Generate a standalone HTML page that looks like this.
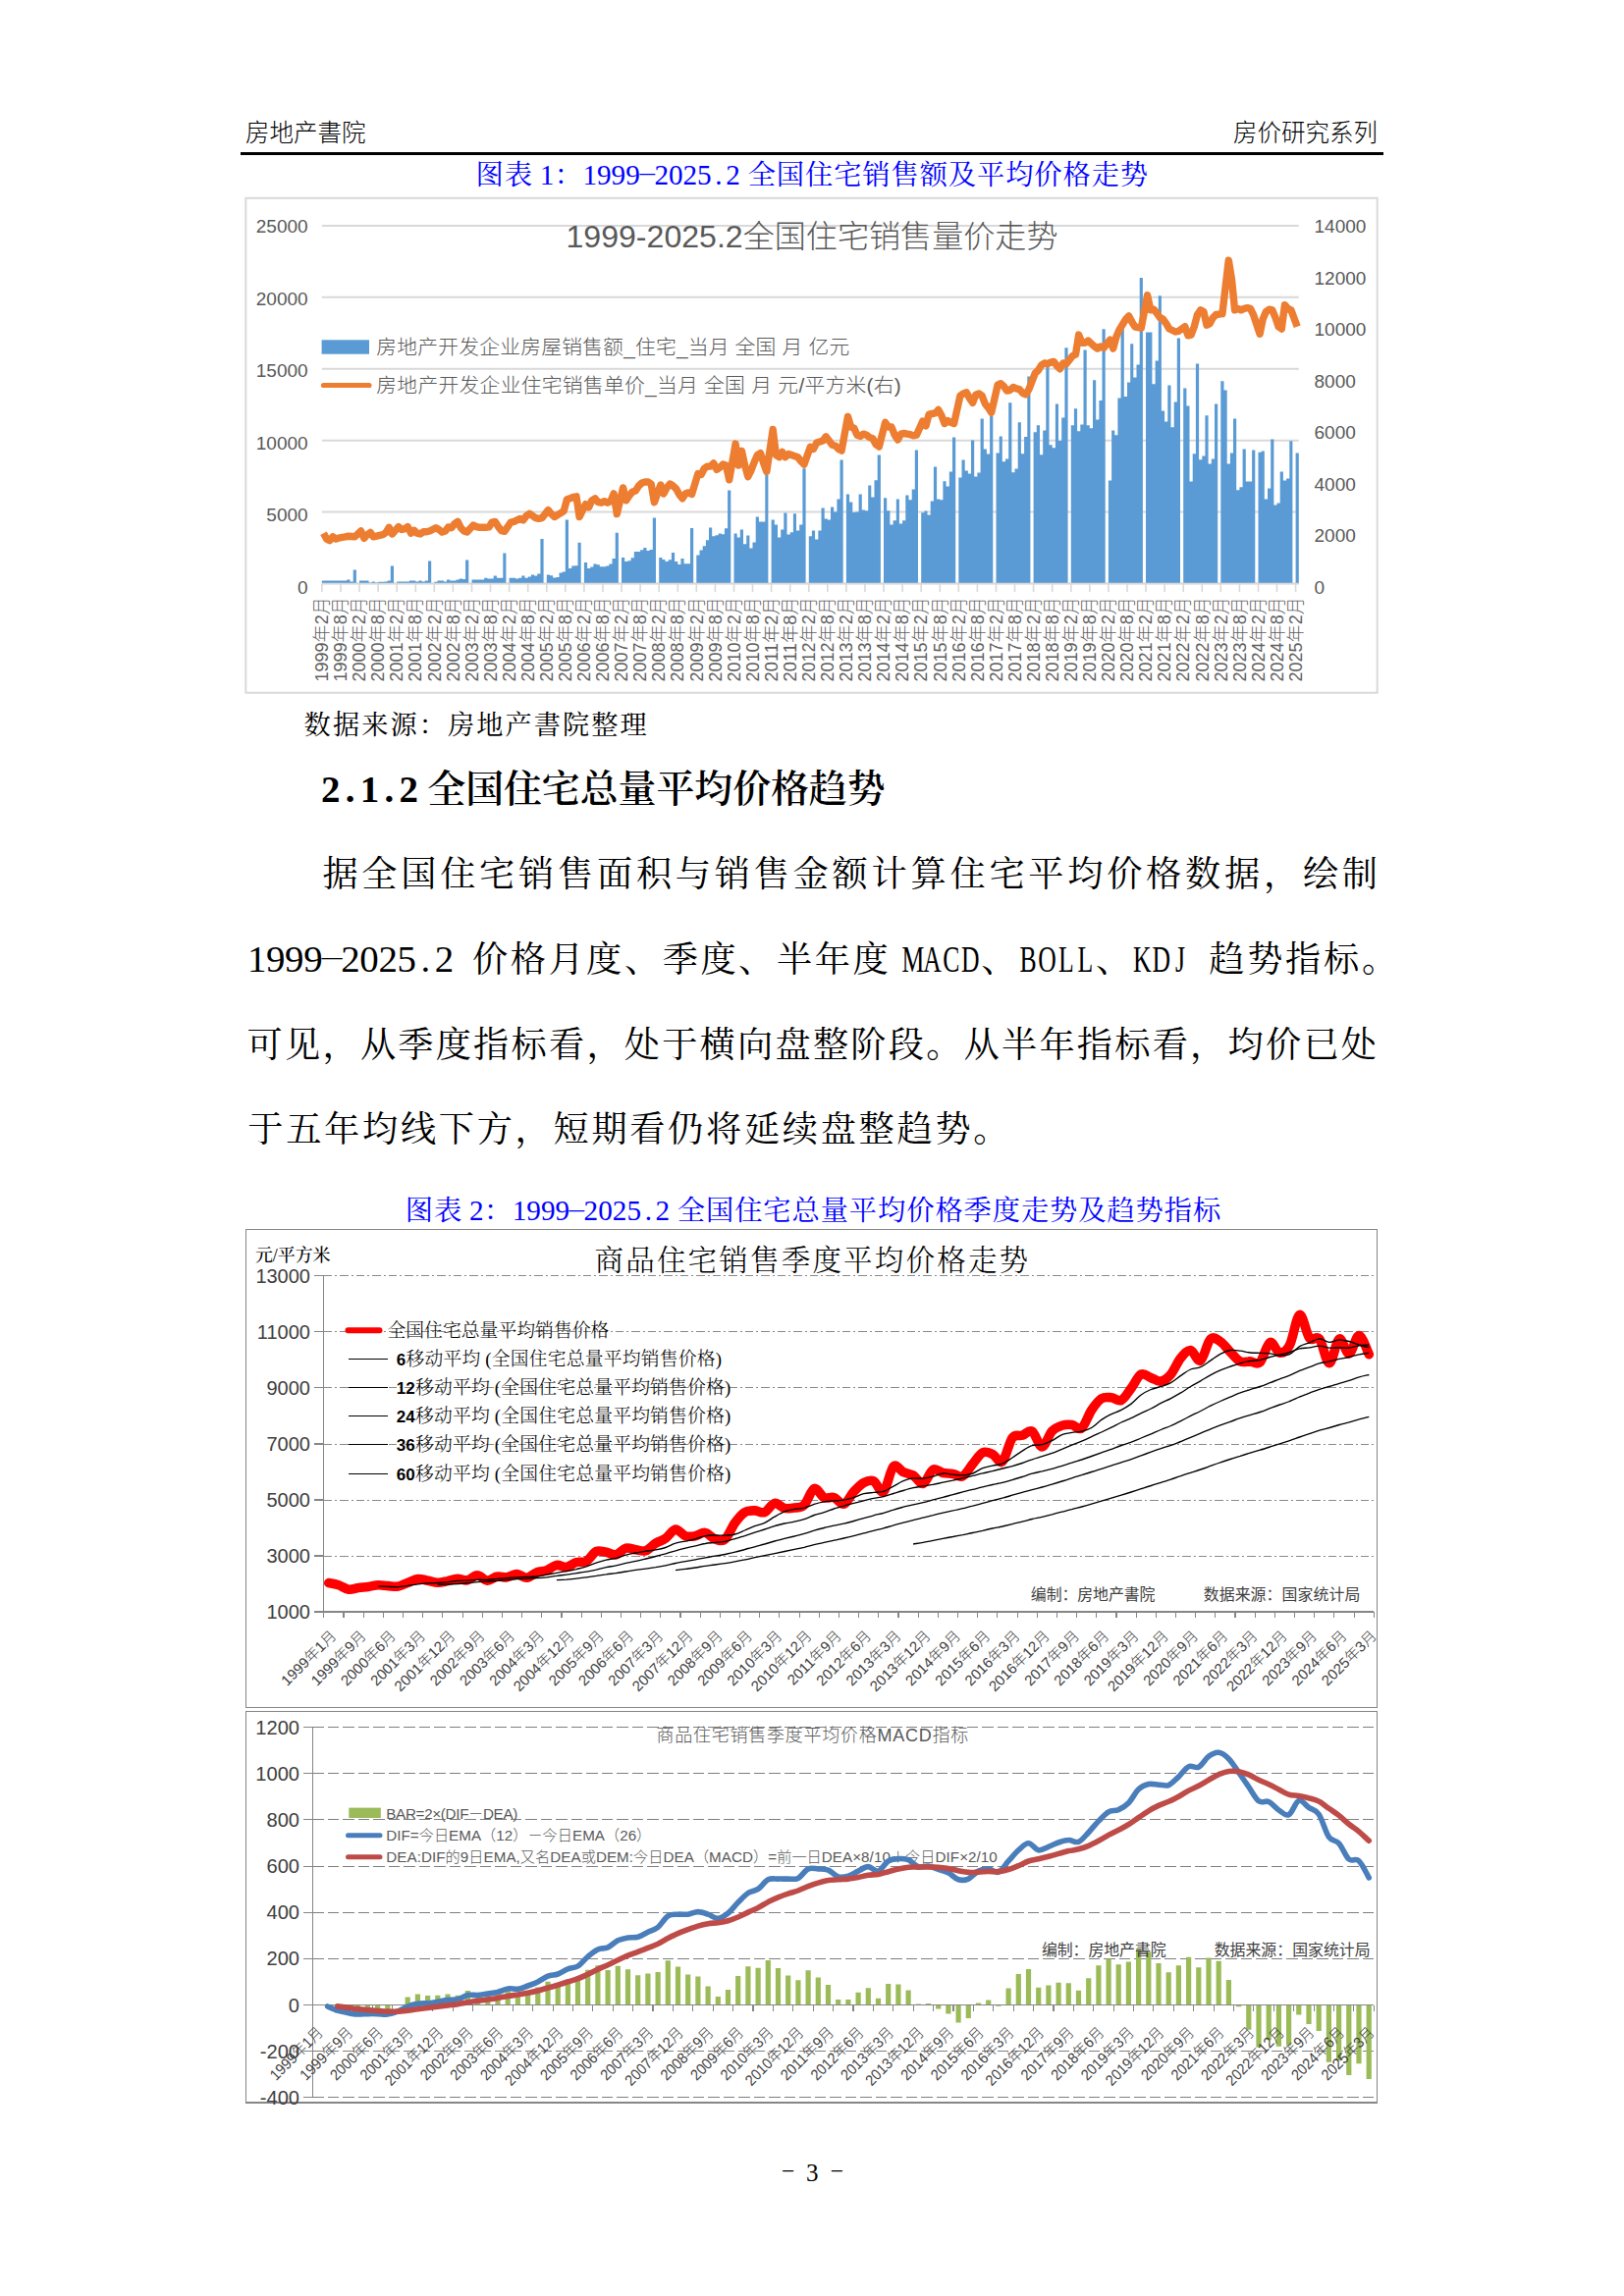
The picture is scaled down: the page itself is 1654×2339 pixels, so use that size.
<!DOCTYPE html>
<html lang="zh-CN">
<head>
<meta charset="utf-8">
<title>房价研究系列 - 房地产書院</title>
<style>
html,body{margin:0;padding:0;background:#fff;}
body{width:1654px;height:2339px;position:relative;overflow:hidden;color:#000;
  font-family:"Liberation Serif","Noto Serif CJK SC",serif;}
.page{position:absolute;left:0;top:0;width:1654px;height:2339px;background:#fff;}
.hdr{position:absolute;top:121px;font-family:"Liberation Sans","Noto Sans CJK SC",sans-serif;
  font-size:24.5px;line-height:30px;white-space:nowrap;color:#000;font-weight:300;}
.hdr.l{left:250px;}
.hdr.r{right:251px;}
.rule{position:absolute;left:245px;top:155px;width:1164px;height:3px;background:#000;}
header,main,section,figure,figcaption,footer{display:block;margin:0;padding:0;}
svg{position:absolute;left:0;top:0;overflow:visible;}
svg text{white-space:pre;}
.song{font-family:"Liberation Serif","Noto Serif CJK SC",serif;}
.hei{font-family:"Liberation Sans","Noto Sans CJK SC",sans-serif;}
.kai{font-family:"Liberation Serif","Noto Serif CJK SC",serif;}
</style>
</head>
<body>
<div class="page">
<header>
<div class="hdr l">房地产書院</div>
<div class="hdr r">房价研究系列</div>
<div class="rule"></div>
</header>
<main>

<figure id="fig1">
<figcaption>
<svg id="cap1" width="1654" height="2339" viewBox="0 0 1654 2339">
<text class="song" x="498.6 527.8" y="187.5" font-size="28.3" fill="#0000ff" text-anchor="middle" font-weight="400">图表</text>
<text class="song" x="557" y="187.5" font-size="29.2" fill="#0000ff" text-anchor="middle" font-weight="400">1</text>
<text class="song" x="578.9" y="187.5" font-size="28.3" fill="#0000ff" text-anchor="middle" font-weight="400">：</text>
<text class="song" x="600.7 615.3 629.9 644.5" y="187.5" font-size="29.2" fill="#0000ff" text-anchor="middle" font-weight="400">1999</text>
<text class="song" transform="translate(659.1,181.1) scale(2.1,0.5)" font-size="29.2" fill="#0000ff" text-anchor="middle">-</text>
<text class="song" x="673.7 688.2 702.8 717.4 732 746.6" y="187.5" font-size="29.2" fill="#0000ff" text-anchor="middle" font-weight="400">2025.2</text>
<text class="song" x="775.8 804.9 834.1 863.3 892.4 921.6 950.8 979.9 1009.1 1038.3 1067.5 1096.6 1125.8 1155" y="187.5" font-size="28.3" fill="#0000ff" text-anchor="middle" font-weight="400">全国住宅销售额及平均价格走势</text>
</svg></figcaption>
<svg id="chart1" width="1654" height="2339" viewBox="0 0 1654 2339">
<rect x="250.3" y="201.8" width="1152.4" height="503.9" fill="#fff" stroke="#d9d9d9" stroke-width="2"/>
<line x1="327.9" x2="1322.8" y1="594.5" y2="594.5" stroke="#d9d9d9" stroke-width="2"/>
<text class="hei" x="313.6" y="604.5" font-size="19" fill="#595959" text-anchor="end">0</text>
<line x1="327.9" x2="1322.8" y1="521.6" y2="521.6" stroke="#d9d9d9" stroke-width="2"/>
<text class="hei" x="313.6" y="531.1" font-size="19" fill="#595959" text-anchor="end">5000</text>
<line x1="327.9" x2="1322.8" y1="448.7" y2="448.7" stroke="#d9d9d9" stroke-width="2"/>
<text class="hei" x="313.6" y="457.6" font-size="19" fill="#595959" text-anchor="end">10000</text>
<line x1="327.9" x2="1322.8" y1="375.7" y2="375.7" stroke="#d9d9d9" stroke-width="2"/>
<text class="hei" x="313.6" y="384.2" font-size="19" fill="#595959" text-anchor="end">15000</text>
<line x1="327.9" x2="1322.8" y1="302.8" y2="302.8" stroke="#d9d9d9" stroke-width="2"/>
<text class="hei" x="313.6" y="310.7" font-size="19" fill="#595959" text-anchor="end">20000</text>
<line x1="327.9" x2="1322.8" y1="229.9" y2="229.9" stroke="#d9d9d9" stroke-width="2"/>
<text class="hei" x="313.6" y="237.3" font-size="19" fill="#595959" text-anchor="end">25000</text>
<text class="hei" x="1338.5" y="604.5" font-size="19" fill="#595959">0</text>
<text class="hei" x="1338.5" y="552" font-size="19" fill="#595959">2000</text>
<text class="hei" x="1338.5" y="499.6" font-size="19" fill="#595959">4000</text>
<text class="hei" x="1338.5" y="447.1" font-size="19" fill="#595959">6000</text>
<text class="hei" x="1338.5" y="394.7" font-size="19" fill="#595959">8000</text>
<text class="hei" x="1338.5" y="342.2" font-size="19" fill="#595959">10000</text>
<text class="hei" x="1338.5" y="289.8" font-size="19" fill="#595959">12000</text>
<text class="hei" x="1338.5" y="237.3" font-size="19" fill="#595959">14000</text>
<text class="hei" x="827" y="252" font-size="31.5" fill="#595959" text-anchor="middle" font-weight="300" textLength="501" lengthAdjust="spacingAndGlyphs">1999-2025.2全国住宅销售量价走势</text>
<rect x="327.6" y="346.3" width="48.4" height="14.4" fill="#5b9bd5"/>
<text class="hei" x="383.3" y="361" font-size="20.8" fill="#595959" font-weight="300" textLength="482" lengthAdjust="spacing">房地产开发企业房屋销售额_住宅_当月 全国 月 亿元</text>
<line x1="329.5" x2="376" y1="392.5" y2="392.5" stroke="#ed7d31" stroke-width="5.2" stroke-linecap="round"/>
<text class="hei" x="383.3" y="399.6" font-size="20.8" fill="#595959" font-weight="300" textLength="534.5" lengthAdjust="spacing">房地产开发企业住宅销售单价_当月 全国 月 元/平方米(右)</text>
<path d="M327.9,594.5V591.6H331.1V591.6H334.3V591.6H337.4V591.6H340.6V591.6H343.8V591.6H347V591.6H350.2V591.6H353.3V590.5H356.5V592.4H359.7V580.5H362.9V594.5ZM366,594.5V591.5H369.2V591.5H372.4V591.5H375.6V593.5H378.8V592.6H381.9V593.5H385.1V592.7H388.3V592.7H391.5V592.4H394.7V591.5H397.8V576.5H401V594.5ZM404.2,594.5V592.6H407.4V592.6H410.5V592.6H413.7V592.6H416.9V591.5H420.1V591.5H423.3V592.4H426.4V591.5H429.6V592.6H432.8V591.5H436V571.5H439.2V594.5ZM442.3,594.5V592.7H445.5V591.6H448.7V591.6H451.9V592.6H455V590.5H458.2V591.5H461.4V591.5H464.6V590.5H467.8V589.6H470.9V590.1H474.1V570.5H477.3V594.5ZM480.5,594.5V590.6H483.7V590.6H486.8V590.6H490V590.6H493.2V588.7H496.4V589.4H499.5V589.4H502.7V586.6H505.9V588.7H509.1V588.7H512.3V563.5H515.4V594.5ZM518.6,594.5V588.7H521.8V588.7H525V589.6H528.2V588.7H531.3V586.6H534.5V588.7H537.7V587.5H540.9V585.6H544V586.6H547.2V584.6H550.4V549.1H553.6V594.5ZM556.8,594.5V585.5H559.9V586.3H563.1V588.5H566.3V588H569.5V583.6H572.7V582.5H575.8V529.6H579V579H582.2V576.6H585.4V576.3H588.5V552.8H591.7V594.5ZM594.9,594.5V573.1H598.1V579H601.3V577.5H604.4V574.5H607.6V575.3H610.8V577.3H614V577.3H617.2V576.6H620.3V574.5H623.5V569H626.7V542.7H629.9V594.5ZM633,594.5V568.1H636.2V572H639.4V571.3H642.6V568.3H645.8V562H648.9V562H652.1V560.3H655.3V558H658.5V561H661.7V560H664.8V527.6H668V594.5ZM671.2,594.5V568.1H674.4V570H677.5V572H680.7V570.3H683.9V563H687.1V572H690.3V575H693.4V569H696.6V574.3H699.8V574.3H703V538.1H706.2V594.5ZM709.3,594.5V565.4H712.5V560.5H715.7V556.3H718.9V550.3H722V537.4H725.2V546.3H728.4V545.3H731.6V543.5H734.8V544.2H737.9V538.3H741.1V499.4H744.3V594.5ZM747.5,594.5V543.4H750.7V547.4H753.8V539.5H757V554.2H760.2V545.5H763.4V558.4H766.5V552.4H769.7V526.4H772.9V531.5H776.1V531.5H779.3V483.5H782.4V594.5ZM785.6,594.5V529.4H788.8V534.6H792V547.4H795.2V539.5H798.3V522.5H801.5V544.4H804.7V542.3H807.9V523.3H811V540.6H814.2V534.6H817.4V477.2H820.6V594.5ZM823.8,594.5V546.3H826.9V540.6H830.1V549.5H833.3V540.6H836.5V517.5H839.7V528.5H842.8V529.4H846V516.5H849.2V521.4H852.4V508.4H855.5V468.4H858.7V594.5ZM861.9,594.5V503.5H865.1V511.5H868.3V522H871.4V521.5H874.6V503.5H877.8V519.5H881V520.3H884.2V494.4H887.3V506.4H890.5V489.3H893.7V463.5H896.9V594.5ZM900,594.5V507.3H903.2V520.3H906.4V534.4H909.6V530.3H912.8V508.5H915.9V533.6H919.1V530.3H922.3V504.4H925.5V509.3H928.7V498.5H931.8V458.5H935V594.5ZM938.2,594.5V522.3H941.4V520.6H944.5V524.4H947.7V510.5H950.9V475.6H954.1V508.5H957.3V509.3H960.4V490.3H963.6V495.6H966.8V480.5H970V445.6H973.2V594.5ZM976.3,594.5V486.5H979.5V468.5H982.7V479.5H985.9V482.4H989V448.5H992.2V485.4H995.4V481.5H998.6V426.5H1001.8V457.4H1004.9V462.4H1008.1V423.9H1011.3V594.5ZM1014.5,594.5V461.4H1017.7V444.4H1020.8V470.3H1024V467.4H1027.2V410.3H1030.4V481.3H1033.5V477.4H1036.7V430.3H1039.9V462.2H1043.1V445.1H1046.3V383.5H1049.4V594.5ZM1052.6,594.5V440.2H1055.8V433.3H1059V463.2H1062.2V438.5H1065.3V373.6H1068.5V453.3H1071.7V456.3H1074.9V411.4H1078V449.1H1081.2V425.4H1084.4V354.3H1087.6V594.5ZM1090.8,594.5V433.3H1093.9V416.2H1097.1V439.2H1100.3V432.5H1103.5V356.5H1106.7V433.3H1109.8V436.2H1113V387.3H1116.2V427.4H1119.4V408.1H1122.5V335.3H1125.7V594.5ZM1128.9,594.5V489.5H1132.1V438.5H1135.3V443.2H1138.4V405.4H1141.6V334.3H1144.8V403.9H1148V389.4H1151.2V350.3H1154.3V384.4H1157.5V371.6H1160.7V283.1H1163.9V594.5ZM1167,594.5V338.4H1170.2V338.4H1173.4V391.3H1176.6V367.4H1179.8V301.3H1182.9V418.5H1186.1V429.4H1189.3V392.4H1192.5V435.2H1195.7V409.6H1198.8V344.5H1202V594.5ZM1205.2,594.5V395.4H1208.4V413.4H1211.5V490.5H1214.7V462.2H1217.9V370.4H1221.1V468.3H1224.3V464.5H1227.4V423.3H1230.6V472.6H1233.8V467.6H1237V411.4H1240.2V594.5ZM1243.3,594.5V388.3H1246.5V397.4H1249.7V472.6H1252.9V461.5H1256V426.4H1259.2V499.3H1262.4V496.3H1265.6V457.4H1268.8V490.5H1271.9V490.5H1275.1V458.4H1278.3V594.5ZM1281.5,594.5V460.7H1284.7V459.5H1287.8V508.5H1291V497.6H1294.2V447.4H1297.4V514.6H1300.5V512.6H1303.7V480.5H1306.9V489.4H1310.1V487.4H1313.3V449.3H1316.4V594.5ZM1319.6,594.5V461.5H1322.8V594.5Z" fill="#5b9bd5"/>
<line x1="327.9" x2="1322.8" y1="594.5" y2="594.5" stroke="#d9d9d9" stroke-width="1.6"/>
<path d="M327.9,594.5v8.5M347,594.5v8.5M366,594.5v8.5M385.1,594.5v8.5M404.2,594.5v8.5M423.3,594.5v8.5M442.3,594.5v8.5M461.4,594.5v8.5M480.5,594.5v8.5M499.5,594.5v8.5M518.6,594.5v8.5M537.7,594.5v8.5M556.8,594.5v8.5M575.8,594.5v8.5M594.9,594.5v8.5M614,594.5v8.5M633,594.5v8.5M652.1,594.5v8.5M671.2,594.5v8.5M690.3,594.5v8.5M709.3,594.5v8.5M728.4,594.5v8.5M747.5,594.5v8.5M766.5,594.5v8.5M785.6,594.5v8.5M804.7,594.5v8.5M823.8,594.5v8.5M842.8,594.5v8.5M861.9,594.5v8.5M881,594.5v8.5M900,594.5v8.5M919.1,594.5v8.5M938.2,594.5v8.5M957.3,594.5v8.5M976.3,594.5v8.5M995.4,594.5v8.5M1014.5,594.5v8.5M1033.5,594.5v8.5M1052.6,594.5v8.5M1071.7,594.5v8.5M1090.8,594.5v8.5M1109.8,594.5v8.5M1128.9,594.5v8.5M1148,594.5v8.5M1167,594.5v8.5M1186.1,594.5v8.5M1205.2,594.5v8.5M1224.3,594.5v8.5M1243.3,594.5v8.5M1262.4,594.5v8.5M1281.5,594.5v8.5M1300.5,594.5v8.5M1319.6,594.5v8.5" stroke="#d9d9d9" stroke-width="1.6" fill="none"/>
<polyline points="329.5,543.2 332.7,549.1 335.8,550.6 339,546.9 342.2,549.1 345.4,548 348.6,547.3 351.7,546.9 354.9,546.2 358.1,546.5 361.3,546.9 367.6,541 370.8,548.4 374,544.7 377.2,542.5 380.3,546.9 383.5,546.2 386.7,545.4 389.9,544.7 393.1,542.5 396.2,537.3 399.4,544 405.8,536.6 409,539.5 412.1,538.8 415.3,536.6 418.5,543.2 421.7,540.3 424.8,543.2 428,544 431.2,541.7 434.4,541.7 437.6,541 443.9,537.7 447.1,539.5 450.3,542.1 453.5,541 456.6,536.9 459.8,537.7 463,533.6 466.2,531.4 469.3,537.7 472.5,541 475.7,542.1 482.1,535.1 485.2,536.6 488.4,537.3 491.6,537.3 494.8,537.3 498,536.9 501.1,532.1 504.3,531.4 507.5,536.6 510.7,540.6 513.8,541.3 520.2,532.1 523.4,531.4 526.6,529.9 529.7,528.4 532.9,529.9 536.1,525.5 539.3,523.2 542.5,525.5 545.6,527.7 548.8,528.4 552,527.7 558.3,519.6 561.5,523.6 564.7,526.5 567.9,524.5 571.1,522.6 574.2,520.6 577.4,508.8 580.6,507.8 583.8,506.3 587,505.8 590.1,526.5 596.5,513.7 599.7,516.7 602.8,509.8 606,507.8 609.2,511.7 612.4,512.2 615.6,510.7 618.7,512.2 621.9,510.7 625.1,502.9 628.3,523.6 634.6,496.9 637.8,509.8 641,504.8 644.2,500.9 647.3,499.9 650.5,495 653.7,492 656.9,491 660.1,491 663.2,493 666.4,511.7 672.8,494 676,502.9 679.1,496.9 682.3,493 685.5,495 688.7,497.9 691.8,503.8 695,507.8 698.2,502.9 701.4,501.9 704.6,503.4 710.9,482.5 714.1,483.5 717.3,477.3 720.5,475.1 723.6,475.1 726.8,472 730,478.3 733.2,476.2 736.3,473.1 739.5,474.1 742.7,488.8 749.1,452.1 752.2,474.1 755.4,459.4 758.6,474.1 761.8,485.6 765,479.3 768.1,471 771.3,463.6 774.5,461.6 777.7,472 780.8,480.4 787.2,437.5 790.4,463.6 793.6,465.7 796.7,460.5 799.9,465.7 803.1,462.6 806.3,463.6 809.5,464.7 812.6,465.7 815.8,469.9 819,473.1 825.3,455.2 828.5,457.4 831.7,451.1 834.9,450 838.1,449 841.2,444.8 844.4,449 847.6,453.2 850.8,454.2 854,457.4 857.1,459.1 863.5,424.4 866.7,435 869.9,436.2 873,443.2 876.2,444.4 879.4,442.1 882.6,443.2 885.7,445.6 888.9,446.8 892.1,452.7 895.3,455 901.6,430.3 904.8,435 908,435 911.2,443.2 914.4,448 917.5,442.1 920.7,441.5 923.9,442.1 927.1,442.7 930.2,443.8 933.4,443.2 939.8,429.1 943,433.8 946.1,422.1 949.3,421.5 952.5,420.9 955.7,417.4 958.9,423.3 962,431.5 965.2,428.6 968.4,430.3 971.6,431.5 977.9,403.3 981.1,400.9 984.3,399.8 987.5,405.6 990.6,410.3 993.8,402.1 997,400.9 1000.2,403.3 1003.4,411.5 1006.5,415.3 1009.7,420.3 1016.1,392.1 1019.2,390.7 1022.4,393.6 1025.6,398.1 1028.8,397.3 1032,394.4 1035.1,395.8 1038.3,396.6 1041.5,400.3 1044.7,401.8 1047.9,396.6 1054.2,380.3 1057.4,377.3 1060.6,372.1 1063.7,369.9 1066.9,370.7 1070.1,369.2 1073.3,368.4 1076.5,372.9 1079.6,375.8 1082.8,369.9 1086,370.7 1092.4,362.5 1095.5,361.1 1098.7,341.1 1101.9,349.2 1105.1,349.2 1108.2,347 1111.4,349.9 1114.6,352.9 1117.8,355.1 1121,352.9 1124.1,354.4 1130.5,346.2 1133.7,355.1 1136.9,343.3 1140,335.9 1143.2,330.7 1146.4,325.5 1149.6,321.8 1152.7,327.7 1155.9,332.9 1159.1,333.7 1162.3,334.1 1168.6,300.7 1171.8,315.8 1175,315.2 1178.2,319 1181.4,323.6 1184.5,325.1 1187.7,329.6 1190.9,335 1194.1,336.5 1197.2,338 1200.4,337.3 1206.8,332.7 1210,341.8 1213.1,341.1 1216.3,332.7 1219.5,320.5 1222.7,315.9 1225.9,317.5 1229,331.2 1232.2,329.6 1235.4,323.6 1238.6,320.5 1244.9,319.7 1248.1,292.4 1251.3,265.1 1254.5,284.6 1257.6,315.9 1260.8,314.4 1264,315.9 1267.2,314.4 1270.4,313.7 1273.5,314.4 1276.7,321 1283.1,340.3 1286.2,325.1 1289.4,317.5 1292.6,315.2 1295.8,315.9 1299,323.6 1302.1,332.7 1305.3,335 1308.5,310.6 1311.7,314.4 1314.9,315.9 1321.2,332.7" fill="none" stroke="#ed7d31" stroke-width="7.4" stroke-linejoin="round" stroke-linecap="butt"/>
<text class="hei" transform="translate(334.1,608.3) rotate(-90)" font-size="18.6" fill="#5e5e5e" text-anchor="end" font-weight="300" textLength="86.2" lengthAdjust="spacingAndGlyphs">1999年2月</text>
<text class="hei" transform="translate(353.2,608.3) rotate(-90)" font-size="18.6" fill="#5e5e5e" text-anchor="end" font-weight="300" textLength="86.2" lengthAdjust="spacingAndGlyphs">1999年8月</text>
<text class="hei" transform="translate(372.2,608.3) rotate(-90)" font-size="18.6" fill="#5e5e5e" text-anchor="end" font-weight="300" textLength="86.2" lengthAdjust="spacingAndGlyphs">2000年2月</text>
<text class="hei" transform="translate(391.3,608.3) rotate(-90)" font-size="18.6" fill="#5e5e5e" text-anchor="end" font-weight="300" textLength="86.2" lengthAdjust="spacingAndGlyphs">2000年8月</text>
<text class="hei" transform="translate(410.4,608.3) rotate(-90)" font-size="18.6" fill="#5e5e5e" text-anchor="end" font-weight="300" textLength="86.2" lengthAdjust="spacingAndGlyphs">2001年2月</text>
<text class="hei" transform="translate(429.4,608.3) rotate(-90)" font-size="18.6" fill="#5e5e5e" text-anchor="end" font-weight="300" textLength="86.2" lengthAdjust="spacingAndGlyphs">2001年8月</text>
<text class="hei" transform="translate(448.5,608.3) rotate(-90)" font-size="18.6" fill="#5e5e5e" text-anchor="end" font-weight="300" textLength="86.2" lengthAdjust="spacingAndGlyphs">2002年2月</text>
<text class="hei" transform="translate(467.6,608.3) rotate(-90)" font-size="18.6" fill="#5e5e5e" text-anchor="end" font-weight="300" textLength="86.2" lengthAdjust="spacingAndGlyphs">2002年8月</text>
<text class="hei" transform="translate(486.7,608.3) rotate(-90)" font-size="18.6" fill="#5e5e5e" text-anchor="end" font-weight="300" textLength="86.2" lengthAdjust="spacingAndGlyphs">2003年2月</text>
<text class="hei" transform="translate(505.7,608.3) rotate(-90)" font-size="18.6" fill="#5e5e5e" text-anchor="end" font-weight="300" textLength="86.2" lengthAdjust="spacingAndGlyphs">2003年8月</text>
<text class="hei" transform="translate(524.8,608.3) rotate(-90)" font-size="18.6" fill="#5e5e5e" text-anchor="end" font-weight="300" textLength="86.2" lengthAdjust="spacingAndGlyphs">2004年2月</text>
<text class="hei" transform="translate(543.9,608.3) rotate(-90)" font-size="18.6" fill="#5e5e5e" text-anchor="end" font-weight="300" textLength="86.2" lengthAdjust="spacingAndGlyphs">2004年8月</text>
<text class="hei" transform="translate(562.9,608.3) rotate(-90)" font-size="18.6" fill="#5e5e5e" text-anchor="end" font-weight="300" textLength="86.2" lengthAdjust="spacingAndGlyphs">2005年2月</text>
<text class="hei" transform="translate(582,608.3) rotate(-90)" font-size="18.6" fill="#5e5e5e" text-anchor="end" font-weight="300" textLength="86.2" lengthAdjust="spacingAndGlyphs">2005年8月</text>
<text class="hei" transform="translate(601.1,608.3) rotate(-90)" font-size="18.6" fill="#5e5e5e" text-anchor="end" font-weight="300" textLength="86.2" lengthAdjust="spacingAndGlyphs">2006年2月</text>
<text class="hei" transform="translate(620.2,608.3) rotate(-90)" font-size="18.6" fill="#5e5e5e" text-anchor="end" font-weight="300" textLength="86.2" lengthAdjust="spacingAndGlyphs">2006年8月</text>
<text class="hei" transform="translate(639.2,608.3) rotate(-90)" font-size="18.6" fill="#5e5e5e" text-anchor="end" font-weight="300" textLength="86.2" lengthAdjust="spacingAndGlyphs">2007年2月</text>
<text class="hei" transform="translate(658.3,608.3) rotate(-90)" font-size="18.6" fill="#5e5e5e" text-anchor="end" font-weight="300" textLength="86.2" lengthAdjust="spacingAndGlyphs">2007年8月</text>
<text class="hei" transform="translate(677.4,608.3) rotate(-90)" font-size="18.6" fill="#5e5e5e" text-anchor="end" font-weight="300" textLength="86.2" lengthAdjust="spacingAndGlyphs">2008年2月</text>
<text class="hei" transform="translate(696.4,608.3) rotate(-90)" font-size="18.6" fill="#5e5e5e" text-anchor="end" font-weight="300" textLength="86.2" lengthAdjust="spacingAndGlyphs">2008年8月</text>
<text class="hei" transform="translate(715.5,608.3) rotate(-90)" font-size="18.6" fill="#5e5e5e" text-anchor="end" font-weight="300" textLength="86.2" lengthAdjust="spacingAndGlyphs">2009年2月</text>
<text class="hei" transform="translate(734.6,608.3) rotate(-90)" font-size="18.6" fill="#5e5e5e" text-anchor="end" font-weight="300" textLength="86.2" lengthAdjust="spacingAndGlyphs">2009年8月</text>
<text class="hei" transform="translate(753.7,608.3) rotate(-90)" font-size="18.6" fill="#5e5e5e" text-anchor="end" font-weight="300" textLength="86.2" lengthAdjust="spacingAndGlyphs">2010年2月</text>
<text class="hei" transform="translate(772.7,608.3) rotate(-90)" font-size="18.6" fill="#5e5e5e" text-anchor="end" font-weight="300" textLength="86.2" lengthAdjust="spacingAndGlyphs">2010年8月</text>
<text class="hei" transform="translate(791.8,608.3) rotate(-90)" font-size="18.6" fill="#5e5e5e" text-anchor="end" font-weight="300" textLength="86.2" lengthAdjust="spacingAndGlyphs">2011年2月</text>
<text class="hei" transform="translate(810.9,608.3) rotate(-90)" font-size="18.6" fill="#5e5e5e" text-anchor="end" font-weight="300" textLength="86.2" lengthAdjust="spacingAndGlyphs">2011年8月</text>
<text class="hei" transform="translate(829.9,608.3) rotate(-90)" font-size="18.6" fill="#5e5e5e" text-anchor="end" font-weight="300" textLength="86.2" lengthAdjust="spacingAndGlyphs">2012年2月</text>
<text class="hei" transform="translate(849,608.3) rotate(-90)" font-size="18.6" fill="#5e5e5e" text-anchor="end" font-weight="300" textLength="86.2" lengthAdjust="spacingAndGlyphs">2012年8月</text>
<text class="hei" transform="translate(868.1,608.3) rotate(-90)" font-size="18.6" fill="#5e5e5e" text-anchor="end" font-weight="300" textLength="86.2" lengthAdjust="spacingAndGlyphs">2013年2月</text>
<text class="hei" transform="translate(887.2,608.3) rotate(-90)" font-size="18.6" fill="#5e5e5e" text-anchor="end" font-weight="300" textLength="86.2" lengthAdjust="spacingAndGlyphs">2013年8月</text>
<text class="hei" transform="translate(906.2,608.3) rotate(-90)" font-size="18.6" fill="#5e5e5e" text-anchor="end" font-weight="300" textLength="86.2" lengthAdjust="spacingAndGlyphs">2014年2月</text>
<text class="hei" transform="translate(925.3,608.3) rotate(-90)" font-size="18.6" fill="#5e5e5e" text-anchor="end" font-weight="300" textLength="86.2" lengthAdjust="spacingAndGlyphs">2014年8月</text>
<text class="hei" transform="translate(944.4,608.3) rotate(-90)" font-size="18.6" fill="#5e5e5e" text-anchor="end" font-weight="300" textLength="86.2" lengthAdjust="spacingAndGlyphs">2015年2月</text>
<text class="hei" transform="translate(963.5,608.3) rotate(-90)" font-size="18.6" fill="#5e5e5e" text-anchor="end" font-weight="300" textLength="86.2" lengthAdjust="spacingAndGlyphs">2015年8月</text>
<text class="hei" transform="translate(982.5,608.3) rotate(-90)" font-size="18.6" fill="#5e5e5e" text-anchor="end" font-weight="300" textLength="86.2" lengthAdjust="spacingAndGlyphs">2016年2月</text>
<text class="hei" transform="translate(1001.6,608.3) rotate(-90)" font-size="18.6" fill="#5e5e5e" text-anchor="end" font-weight="300" textLength="86.2" lengthAdjust="spacingAndGlyphs">2016年8月</text>
<text class="hei" transform="translate(1020.7,608.3) rotate(-90)" font-size="18.6" fill="#5e5e5e" text-anchor="end" font-weight="300" textLength="86.2" lengthAdjust="spacingAndGlyphs">2017年2月</text>
<text class="hei" transform="translate(1039.7,608.3) rotate(-90)" font-size="18.6" fill="#5e5e5e" text-anchor="end" font-weight="300" textLength="86.2" lengthAdjust="spacingAndGlyphs">2017年8月</text>
<text class="hei" transform="translate(1058.8,608.3) rotate(-90)" font-size="18.6" fill="#5e5e5e" text-anchor="end" font-weight="300" textLength="86.2" lengthAdjust="spacingAndGlyphs">2018年2月</text>
<text class="hei" transform="translate(1077.9,608.3) rotate(-90)" font-size="18.6" fill="#5e5e5e" text-anchor="end" font-weight="300" textLength="86.2" lengthAdjust="spacingAndGlyphs">2018年8月</text>
<text class="hei" transform="translate(1097,608.3) rotate(-90)" font-size="18.6" fill="#5e5e5e" text-anchor="end" font-weight="300" textLength="86.2" lengthAdjust="spacingAndGlyphs">2019年2月</text>
<text class="hei" transform="translate(1116,608.3) rotate(-90)" font-size="18.6" fill="#5e5e5e" text-anchor="end" font-weight="300" textLength="86.2" lengthAdjust="spacingAndGlyphs">2019年8月</text>
<text class="hei" transform="translate(1135.1,608.3) rotate(-90)" font-size="18.6" fill="#5e5e5e" text-anchor="end" font-weight="300" textLength="86.2" lengthAdjust="spacingAndGlyphs">2020年2月</text>
<text class="hei" transform="translate(1154.2,608.3) rotate(-90)" font-size="18.6" fill="#5e5e5e" text-anchor="end" font-weight="300" textLength="86.2" lengthAdjust="spacingAndGlyphs">2020年8月</text>
<text class="hei" transform="translate(1173.2,608.3) rotate(-90)" font-size="18.6" fill="#5e5e5e" text-anchor="end" font-weight="300" textLength="86.2" lengthAdjust="spacingAndGlyphs">2021年2月</text>
<text class="hei" transform="translate(1192.3,608.3) rotate(-90)" font-size="18.6" fill="#5e5e5e" text-anchor="end" font-weight="300" textLength="86.2" lengthAdjust="spacingAndGlyphs">2021年8月</text>
<text class="hei" transform="translate(1211.4,608.3) rotate(-90)" font-size="18.6" fill="#5e5e5e" text-anchor="end" font-weight="300" textLength="86.2" lengthAdjust="spacingAndGlyphs">2022年2月</text>
<text class="hei" transform="translate(1230.5,608.3) rotate(-90)" font-size="18.6" fill="#5e5e5e" text-anchor="end" font-weight="300" textLength="86.2" lengthAdjust="spacingAndGlyphs">2022年8月</text>
<text class="hei" transform="translate(1249.5,608.3) rotate(-90)" font-size="18.6" fill="#5e5e5e" text-anchor="end" font-weight="300" textLength="86.2" lengthAdjust="spacingAndGlyphs">2023年2月</text>
<text class="hei" transform="translate(1268.6,608.3) rotate(-90)" font-size="18.6" fill="#5e5e5e" text-anchor="end" font-weight="300" textLength="86.2" lengthAdjust="spacingAndGlyphs">2023年8月</text>
<text class="hei" transform="translate(1287.7,608.3) rotate(-90)" font-size="18.6" fill="#5e5e5e" text-anchor="end" font-weight="300" textLength="86.2" lengthAdjust="spacingAndGlyphs">2024年2月</text>
<text class="hei" transform="translate(1306.7,608.3) rotate(-90)" font-size="18.6" fill="#5e5e5e" text-anchor="end" font-weight="300" textLength="86.2" lengthAdjust="spacingAndGlyphs">2024年8月</text>
<text class="hei" transform="translate(1325.8,608.3) rotate(-90)" font-size="18.6" fill="#5e5e5e" text-anchor="end" font-weight="300" textLength="86.2" lengthAdjust="spacingAndGlyphs">2025年2月</text>
</svg>
</figure>
<section id="body">
<svg id="bodytext" width="1654" height="2339" viewBox="0 0 1654 2339">
<text class="song" x="323.2 352.5 381.8 411 440.3 469.6 498.9 528.1 557.4 586.7 615.9 645.2" y="748.3" font-size="27.2" fill="#000" text-anchor="middle" font-weight="400">数据来源：房地产書院整理</text>
<text class="song" x="336.8 356.6 376.5 396.4 416.3" y="816.5" font-size="38.9" fill="#000" text-anchor="middle" font-weight="600">2.1.2</text>
<text class="song" x="454.7 493.6 532.4 571.3 610.2 649 687.9 726.7 765.6 804.5 843.3 882.2" y="816.5" font-size="38.9" fill="#000" text-anchor="middle" font-weight="600">全国住宅总量平均价格趋势</text>
<text class="song" x="346.5 386.4 426.4 466.3 506.2 546.2 586.1 626.1 666 705.9 745.9 785.8 825.8 865.7 905.6 945.6 985.5 1025.5 1065.4 1105.3 1145.3 1185.2 1225.2 1265.1 1305 1345 1384.9" y="903" font-size="36.2" fill="#000" text-anchor="middle" font-weight="400">据全国住宅销售面积与销售金额计算住宅平均价格数据，绘制</text>
<text class="song" x="261.7 280.8 299.8 318.9" y="989.8" font-size="38.9" fill="#000" text-anchor="middle" font-weight="400">1999</text>
<text class="song" transform="translate(338,981.3) scale(2.1,0.5)" font-size="38.9" fill="#000" text-anchor="middle">-</text>
<text class="song" x="357 376.1 395.2 414.3 433.3 452.4" y="989.8" font-size="38.9" fill="#000" text-anchor="middle" font-weight="400">2025.2</text>
<text class="song" x="499 537.8 576.5 615.2 654 692.8 731.5 770.2 809 847.8 886.5" y="989.8" font-size="36.2" fill="#000" text-anchor="middle" font-weight="400">价格月度、季度、半年度</text>
<text class="song" transform="scale(0.66,1)" x="1409.1 1438.5 1468 1497.5" y="989.8" font-size="38.9" fill="#000" text-anchor="middle">MACD</text>
<text class="song" x="1017.3" y="989.8" font-size="36.2" fill="#000" text-anchor="middle" font-weight="400">、</text>
<text class="song" transform="scale(0.66,1)" x="1586.4 1615.8 1645.3 1674.7" y="989.8" font-size="38.9" fill="#000" text-anchor="middle">BOLL</text>
<text class="song" x="1134" y="989.8" font-size="36.2" fill="#000" text-anchor="middle" font-weight="400">、</text>
<text class="song" transform="scale(0.66,1)" x="1762.4 1791.9 1821.3" y="989.8" font-size="38.9" fill="#000" text-anchor="middle">KDJ</text>
<text class="song" x="1249.4 1288.3 1327.2 1366.1 1405" y="989.8" font-size="36.2" fill="#000" text-anchor="middle" font-weight="400">趋势指标。</text>
<text class="song" x="269.7 308.1 346.6 385 423.4 461.8 500.2 538.7 577.1 615.5 653.9 692.3 730.7 769.2 807.6 846 884.4 922.8 961.3 999.7 1038.1 1076.5 1114.9 1153.4 1191.8 1230.2 1268.6 1307 1345.5 1383.9" y="1076.6" font-size="36.2" fill="#000" text-anchor="middle" font-weight="400">可见，从季度指标看，处于横向盘整阶段。从半年指标看，均价已处</text>
<text class="song" x="270.4 309.3 348.2 387.1 426 464.9 503.8 542.7 581.6 620.5 659.3 698.2 737.1 776 814.9 853.8 892.7 931.6 970.5 1009.4" y="1163.4" font-size="36.2" fill="#000" text-anchor="middle" font-weight="400">于五年均线下方，短期看仍将延续盘整趋势。</text>
</svg></section>
<figure id="fig2">
<figcaption>
<svg id="cap2" width="1654" height="2339" viewBox="0 0 1654 2339">
<text class="song" x="426.9 456.1" y="1243" font-size="28.3" fill="#0000ff" text-anchor="middle" font-weight="400">图表</text>
<text class="song" x="485.3" y="1243" font-size="29.2" fill="#0000ff" text-anchor="middle" font-weight="400">2</text>
<text class="song" x="507.1" y="1243" font-size="28.3" fill="#0000ff" text-anchor="middle" font-weight="400">：</text>
<text class="song" x="529 543.6 558.2 572.8" y="1243" font-size="29.2" fill="#0000ff" text-anchor="middle" font-weight="400">1999</text>
<text class="song" transform="translate(587.3,1236.6) scale(2.1,0.5)" font-size="29.2" fill="#0000ff" text-anchor="middle">-</text>
<text class="song" x="601.9 616.5 631.1 645.7 660.3 674.9" y="1243" font-size="29.2" fill="#0000ff" text-anchor="middle" font-weight="400">2025.2</text>
<text class="song" x="704 733.2 762.4 791.5 820.7 849.9 879 908.2 937.4 966.6 995.7 1024.9 1054.1 1083.2 1112.4 1141.6 1170.7 1199.9 1229.1" y="1243" font-size="28.3" fill="#0000ff" text-anchor="middle" font-weight="400">全国住宅总量平均价格季度走势及趋势指标</text>
</svg></figcaption>
<svg id="chart2" width="1654" height="2339" viewBox="0 0 1654 2339">
<rect x="250.3" y="1252.2" width="1152.3" height="487.3" fill="#fff" stroke="#868686" stroke-width="1.2" shape-rendering="crispEdges"/>
<line x1="320.3" x2="329.8" y1="1642" y2="1642" stroke="#868686" stroke-width="1.1" shape-rendering="crispEdges"/>
<text class="hei" x="316" y="1649.2" font-size="20" fill="#404040" text-anchor="end">1000</text>
<line x1="329.8" x2="1399.3" y1="1585" y2="1585" stroke="#8a8a8a" stroke-width="1" stroke-dasharray="8.5 3 2 3" shape-rendering="crispEdges"/>
<line x1="320.3" x2="329.8" y1="1585" y2="1585" stroke="#868686" stroke-width="1.1" shape-rendering="crispEdges"/>
<text class="hei" x="316" y="1592.2" font-size="20" fill="#404040" text-anchor="end">3000</text>
<line x1="329.8" x2="1399.3" y1="1528" y2="1528" stroke="#8a8a8a" stroke-width="1" stroke-dasharray="8.5 3 2 3" shape-rendering="crispEdges"/>
<line x1="320.3" x2="329.8" y1="1528" y2="1528" stroke="#868686" stroke-width="1.1" shape-rendering="crispEdges"/>
<text class="hei" x="316" y="1535.2" font-size="20" fill="#404040" text-anchor="end">5000</text>
<line x1="329.8" x2="1399.3" y1="1471" y2="1471" stroke="#8a8a8a" stroke-width="1" stroke-dasharray="8.5 3 2 3" shape-rendering="crispEdges"/>
<line x1="320.3" x2="329.8" y1="1471" y2="1471" stroke="#868686" stroke-width="1.1" shape-rendering="crispEdges"/>
<text class="hei" x="316" y="1478.2" font-size="20" fill="#404040" text-anchor="end">7000</text>
<line x1="329.8" x2="1399.3" y1="1413.9" y2="1413.9" stroke="#8a8a8a" stroke-width="1" stroke-dasharray="8.5 3 2 3" shape-rendering="crispEdges"/>
<line x1="320.3" x2="329.8" y1="1413.9" y2="1413.9" stroke="#868686" stroke-width="1.1" shape-rendering="crispEdges"/>
<text class="hei" x="316" y="1421.1" font-size="20" fill="#404040" text-anchor="end">9000</text>
<line x1="329.8" x2="1399.3" y1="1356.9" y2="1356.9" stroke="#8a8a8a" stroke-width="1" stroke-dasharray="8.5 3 2 3" shape-rendering="crispEdges"/>
<line x1="320.3" x2="329.8" y1="1356.9" y2="1356.9" stroke="#868686" stroke-width="1.1" shape-rendering="crispEdges"/>
<text class="hei" x="316" y="1364.1" font-size="20" fill="#404040" text-anchor="end">11000</text>
<line x1="329.8" x2="1399.3" y1="1299.9" y2="1299.9" stroke="#8a8a8a" stroke-width="1" stroke-dasharray="8.5 3 2 3" shape-rendering="crispEdges"/>
<line x1="320.3" x2="329.8" y1="1299.9" y2="1299.9" stroke="#868686" stroke-width="1.1" shape-rendering="crispEdges"/>
<text class="hei" x="316" y="1307.1" font-size="20" fill="#404040" text-anchor="end">13000</text>
<line x1="329.8" x2="329.8" y1="1299.9" y2="1642" stroke="#868686" stroke-width="1.1" shape-rendering="crispEdges"/>
<line x1="329.8" x2="1399.3" y1="1642" y2="1642" stroke="#868686" stroke-width="1.1" shape-rendering="crispEdges"/>
<path d="M329.8,1642v6M350,1642v6M370.2,1642v6M390.3,1642v6M410.5,1642v6M430.7,1642v6M450.9,1642v6M471.1,1642v6M491.2,1642v6M511.4,1642v6M531.6,1642v6M551.8,1642v6M572,1642v6M592.1,1642v6M612.3,1642v6M632.5,1642v6M652.7,1642v6M672.8,1642v6M693,1642v6M713.2,1642v6M733.4,1642v6M753.6,1642v6M773.7,1642v6M793.9,1642v6M814.1,1642v6M834.3,1642v6M854.5,1642v6M874.6,1642v6M894.8,1642v6M915,1642v6M935.2,1642v6M955.4,1642v6M975.5,1642v6M995.7,1642v6M1015.9,1642v6M1036.1,1642v6M1056.3,1642v6M1076.4,1642v6M1096.6,1642v6M1116.8,1642v6M1137,1642v6M1157.1,1642v6M1177.3,1642v6M1197.5,1642v6M1217.7,1642v6M1237.9,1642v6M1258,1642v6M1278.2,1642v6M1298.4,1642v6M1318.6,1642v6M1338.8,1642v6M1358.9,1642v6M1379.1,1642v6M1399.3,1642v6" stroke="#868686" stroke-width="1.1" fill="none" shape-rendering="crispEdges"/>
<text class="song" x="827.4" y="1294" font-size="29.5" fill="#000" text-anchor="middle" letter-spacing="2.2" font-weight="300">商品住宅销售季度平均价格走势</text>
<text class="kai" x="260" y="1285" font-size="18" fill="#000" font-weight="500" textLength="76.5" lengthAdjust="spacing">元/平方米</text>
<path d="M334.8,1612.6C336.5,1612.9 341.6,1613.6 344.9,1614.7C348.3,1615.9 351.7,1618.8 355,1619.2C358.4,1619.7 361.8,1618 365.1,1617.6C368.5,1617.1 371.8,1616.9 375.2,1616.4C378.6,1615.9 381.9,1614.9 385.3,1614.7C388.7,1614.6 392,1615.4 395.4,1615.6C398.7,1615.8 402.1,1616.6 405.5,1616.1C408.8,1615.5 412.2,1613.5 415.6,1612.2C418.9,1611 422.3,1608.9 425.7,1608.6C429,1608.3 432.4,1609.6 435.7,1610.2C439.1,1610.8 442.5,1612.2 445.8,1612.2C449.2,1612.3 452.6,1611.2 455.9,1610.6C459.3,1609.9 462.6,1608.6 466,1608.4C469.4,1608.3 472.7,1610.4 476.1,1609.8C479.5,1609.1 482.8,1604.7 486.2,1604.8C489.6,1604.8 492.9,1609.9 496.3,1610.1C499.6,1610.3 503,1606.6 506.4,1606.1C509.7,1605.5 513.1,1607.2 516.5,1606.8C519.8,1606.4 523.2,1603.5 526.5,1603.6C529.9,1603.7 533.3,1607.5 536.6,1607.2C540,1607 543.4,1603.2 546.7,1601.9C550.1,1600.7 553.5,1601 556.8,1599.8C560.2,1598.5 563.5,1595 566.9,1594.4C570.3,1593.9 573.6,1596.9 577,1596.4C580.4,1595.9 583.7,1592.5 587.1,1591.5C590.4,1590.5 593.8,1592.3 597.2,1590.5C600.5,1588.6 603.9,1582 607.3,1580.5C610.6,1579 614,1580.8 617.4,1581.3C620.7,1581.9 624.1,1584.5 627.4,1583.8C630.8,1583.1 634.2,1578 637.5,1577.2C640.9,1576.3 644.3,1578.4 647.6,1578.8C651,1579.2 654.3,1580.8 657.7,1579.7C661.1,1578.5 664.4,1574.3 667.8,1572.2C671.2,1570.1 674.5,1569.6 677.9,1567.2C681.3,1564.8 684.6,1558.5 688,1558C691.3,1557.6 694.7,1563.6 698.1,1564.7C701.4,1565.8 704.8,1565.3 708.2,1564.7C711.5,1564.2 714.9,1560.8 718.3,1561.4C721.6,1561.9 725,1566.9 728.3,1568C731.7,1569.1 735.1,1570.8 738.4,1568C741.8,1565.3 745.2,1556 748.5,1551.4C751.9,1546.8 755.2,1542.7 758.6,1540.6C762,1538.5 765.3,1538.9 768.7,1538.9C772.1,1538.9 775.4,1541.8 778.8,1540.6C782.2,1539.3 785.5,1532.1 788.9,1531.4C792.2,1530.8 795.6,1535.7 799,1536.4C802.3,1537.2 805.7,1536.7 809.1,1536.1C812.4,1535.6 815.8,1536.4 819.1,1533.1C822.5,1529.9 825.9,1517.8 829.2,1516.5C832.6,1515.3 836,1524.1 839.3,1525.6C842.7,1527.1 846.1,1524.5 849.4,1525.6C852.8,1526.7 856.1,1533.2 859.5,1532.2C862.9,1531.2 866.2,1523.3 869.6,1519.6C873,1516 876.3,1512.3 879.7,1510.5C883,1508.7 886.4,1507.3 889.8,1508.8C893.1,1510.4 896.5,1522.1 899.9,1519.6C903.2,1517.2 906.6,1497.2 910,1493.9C913.3,1490.6 916.7,1498.2 920,1499.7C923.4,1501.2 926.8,1501.1 930.1,1503C933.5,1505 936.9,1512.3 940.2,1511.3C943.6,1510.4 946.9,1499 950.3,1497.2C953.7,1495.4 957,1499.8 960.4,1500.5C963.8,1501.2 967.1,1500.8 970.5,1501.4C973.9,1501.9 977.2,1505.5 980.6,1503.8C983.9,1502.2 987.3,1495.4 990.7,1491.4C994,1487.4 997.4,1481.4 1000.8,1479.8C1004.1,1478.1 1007.5,1479.9 1010.8,1481.4C1014.2,1482.9 1017.6,1491.7 1020.9,1488.9C1024.3,1486.1 1027.7,1469.2 1031,1464.8C1034.4,1460.4 1037.8,1463.4 1041.1,1462.3C1044.5,1461.2 1047.8,1456.2 1051.2,1458.1C1054.6,1460.1 1057.9,1473.9 1061.3,1473.9C1064.7,1473.9 1068,1461.8 1071.4,1458.1C1074.8,1454.5 1078.1,1453.4 1081.5,1452.3C1084.8,1451.2 1088.2,1451.1 1091.6,1451.5C1094.9,1451.9 1098.3,1457.3 1101.7,1454.8C1105,1452.3 1108.4,1441.5 1111.7,1436.5C1115.1,1431.5 1118.5,1426.9 1121.8,1424.8C1125.2,1422.6 1128.6,1423.5 1131.9,1423.8C1135.3,1424.1 1138.7,1428.1 1142,1426.4C1145.4,1424.8 1148.7,1418.6 1152.1,1414.2C1155.5,1409.8 1158.8,1401.9 1162.2,1400.1C1165.6,1398.3 1168.9,1402.4 1172.3,1403.6C1175.6,1404.8 1179,1407.7 1182.4,1407.1C1185.7,1406.5 1189.1,1404.1 1192.5,1400.1C1195.8,1396.2 1199.2,1387.5 1202.6,1383.4C1205.9,1379.3 1209.3,1375.1 1212.6,1375.5C1216,1376 1219.4,1388 1222.7,1386.1C1226.1,1384.1 1229.5,1367.3 1232.8,1364.1C1236.2,1360.9 1239.5,1364.6 1242.9,1366.8C1246.3,1368.9 1249.6,1373.9 1253,1377.3C1256.4,1380.6 1259.7,1385.3 1263.1,1386.9C1266.5,1388.5 1269.8,1386.8 1273.2,1386.9C1276.5,1387.1 1279.9,1391 1283.3,1387.8C1286.6,1384.6 1290,1369.2 1293.4,1367.6C1296.7,1366 1300.1,1377.7 1303.4,1378.2C1306.8,1378.6 1310.2,1376.7 1313.5,1370.3C1316.9,1363.8 1320.3,1340.7 1323.6,1339.5C1327,1338.4 1330.4,1359.1 1333.7,1363.2C1337.1,1367.3 1340.4,1359.9 1343.8,1364.1C1347.2,1368.3 1350.5,1388.7 1353.9,1388.7C1357.3,1388.7 1360.6,1365.7 1364,1364.1C1367.3,1362.5 1370.7,1379.6 1374.1,1379C1377.4,1378.5 1380.8,1360.5 1384.2,1360.6C1387.5,1360.7 1392.6,1376.5 1394.3,1379.7" fill="none" stroke="#ff0000" stroke-width="9.6" stroke-linejoin="round" stroke-linecap="round"/>
<path d="M385.3,1615.9C387,1616 392,1616.3 395.4,1616.4C398.7,1616.5 402.1,1616.8 405.5,1616.6C408.8,1616.4 412.2,1615.9 415.6,1615.4C418.9,1615 422.3,1614.4 425.7,1613.9C429,1613.5 432.4,1613.1 435.7,1612.9C439.1,1612.7 442.5,1612.7 445.8,1612.5C449.2,1612.3 452.6,1612 455.9,1611.7C459.3,1611.3 462.6,1610.7 466,1610.4C469.4,1610.1 472.7,1610.1 476.1,1610C479.5,1609.8 482.8,1609.4 486.2,1609.3C489.6,1609.2 492.9,1609.5 496.3,1609.3C499.6,1609.1 503,1608.6 506.4,1608.3C509.7,1608 513.1,1607.9 516.5,1607.6C519.8,1607.4 523.2,1607 526.5,1606.8C529.9,1606.6 533.3,1606.6 536.6,1606.4C540,1606.3 543.4,1606.3 546.7,1606C550.1,1605.6 553.5,1604.8 556.8,1604.2C560.2,1603.6 563.5,1602.9 566.9,1602.3C570.3,1601.7 573.6,1601.2 577,1600.6C580.4,1600 583.7,1599.4 587.1,1598.6C590.4,1597.7 593.8,1596.8 597.2,1595.8C600.5,1594.7 603.9,1593.3 607.3,1592.2C610.6,1591.1 614,1589.9 617.4,1589.1C620.7,1588.3 624.1,1588.2 627.4,1587.3C630.8,1586.5 634.2,1585 637.5,1584.1C640.9,1583.2 644.3,1582.7 647.6,1582C651,1581.4 654.3,1580.7 657.7,1580.2C661.1,1579.7 664.4,1579.5 667.8,1578.8C671.2,1578.2 674.5,1577.6 677.9,1576.5C681.3,1575.4 684.6,1573.2 688,1572.2C691.3,1571.1 694.7,1570.8 698.1,1570.1C701.4,1569.4 704.8,1568.6 708.2,1567.8C711.5,1566.9 714.9,1565.3 718.3,1564.7C721.6,1564.1 725,1564.1 728.3,1564C731.7,1563.9 735.1,1564.3 738.4,1564.1C741.8,1564 745.2,1563.9 748.5,1563C751.9,1562.2 755.2,1560.4 758.6,1559C762,1557.6 765.3,1556 768.7,1554.7C772.1,1553.4 775.4,1552.9 778.8,1551.3C782.2,1549.7 785.5,1547.1 788.9,1545.2C792.2,1543.3 795.6,1541.2 799,1539.9C802.3,1538.6 805.7,1538 809.1,1537.4C812.4,1536.7 815.8,1536.9 819.1,1536.1C822.5,1535.3 825.9,1533.4 829.2,1532.4C832.6,1531.3 836,1530.5 839.3,1529.9C842.7,1529.3 846.1,1529.2 849.4,1528.9C852.8,1528.6 856.1,1528.8 859.5,1528.2C862.9,1527.6 866.2,1526.5 869.6,1525.5C873,1524.4 876.3,1522.5 879.7,1521.7C883,1520.9 886.4,1520.8 889.8,1520.4C893.1,1520 896.5,1520.5 899.9,1519.4C903.2,1518.4 906.6,1515.9 910,1514.1C913.3,1512.3 916.7,1510.1 920,1508.7C923.4,1507.3 926.8,1506.4 930.1,1505.9C933.5,1505.5 936.9,1506.4 940.2,1506.1C943.6,1505.8 946.9,1505 950.3,1504.1C953.7,1503.3 957,1501.3 960.4,1501C963.8,1500.6 967.1,1501.9 970.5,1502.2C973.9,1502.5 977.2,1503.1 980.6,1502.9C983.9,1502.7 987.3,1502.2 990.7,1501C994,1499.7 997.4,1497 1000.8,1495.7C1004.1,1494.4 1007.5,1493.8 1010.8,1493.1C1014.2,1492.3 1017.6,1492.5 1020.9,1491.1C1024.3,1489.8 1027.7,1487.2 1031,1485C1034.4,1482.8 1037.8,1480.2 1041.1,1478.1C1044.5,1476 1047.8,1473.6 1051.2,1472.6C1054.6,1471.5 1057.9,1472.4 1061.3,1471.6C1064.7,1470.8 1068,1469.4 1071.4,1467.7C1074.8,1466 1078.1,1463 1081.5,1461.6C1084.8,1460.2 1088.2,1460 1091.6,1459.4C1094.9,1458.8 1098.3,1459 1101.7,1458.1C1105,1457.3 1108.4,1456.5 1111.7,1454.5C1115.1,1452.6 1118.5,1448.7 1121.8,1446.4C1125.2,1444 1128.6,1442.3 1131.9,1440.6C1135.3,1439 1138.7,1438.1 1142,1436.3C1145.4,1434.6 1148.7,1432.6 1152.1,1430.1C1155.5,1427.5 1158.8,1423.4 1162.2,1421C1165.6,1418.5 1168.9,1416.9 1172.3,1415.5C1175.6,1414.1 1179,1413.7 1182.4,1412.5C1185.7,1411.4 1189.1,1410.4 1192.5,1408.6C1195.8,1406.7 1199.2,1403.7 1202.6,1401.4C1205.9,1399.2 1209.3,1396.4 1212.6,1395C1216,1393.5 1219.4,1394.1 1222.7,1392.6C1226.1,1391.2 1229.5,1388.3 1232.8,1386.1C1236.2,1383.8 1239.5,1381.1 1242.9,1379.3C1246.3,1377.6 1249.6,1376.1 1253,1375.5C1256.4,1375 1259.7,1375.7 1263.1,1376.1C1266.5,1376.5 1269.8,1377.6 1273.2,1378C1276.5,1378.4 1279.9,1378.2 1283.3,1378.3C1286.6,1378.4 1290,1378.5 1293.4,1378.9C1296.7,1379.3 1300.1,1380.7 1303.4,1380.8C1306.8,1380.9 1310.2,1381.1 1313.5,1379.6C1316.9,1378.1 1320.3,1373.7 1323.6,1371.7C1327,1369.7 1330.4,1369.1 1333.7,1367.8C1337.1,1366.5 1340.4,1363.9 1343.8,1363.8C1347.2,1363.7 1350.5,1367.1 1353.9,1367.3C1357.3,1367.5 1360.6,1365.1 1364,1365C1367.3,1364.8 1370.7,1365.6 1374.1,1366.5C1377.4,1367.3 1380.8,1368.9 1384.2,1370C1387.5,1371 1392.6,1372.3 1394.3,1372.7" fill="none" stroke="#000" stroke-width="1.35"/>
<path d="M445.8,1614.2C447.5,1614.2 452.6,1614.1 455.9,1614C459.3,1613.9 462.6,1613.7 466,1613.5C469.4,1613.3 472.7,1613 476.1,1612.7C479.5,1612.4 482.8,1611.9 486.2,1611.6C489.6,1611.4 492.9,1611.3 496.3,1611.1C499.6,1610.9 503,1610.6 506.4,1610.4C509.7,1610.1 513.1,1609.9 516.5,1609.7C519.8,1609.4 523.2,1608.9 526.5,1608.6C529.9,1608.4 533.3,1608.4 536.6,1608.2C540,1608 543.4,1607.9 546.7,1607.6C550.1,1607.4 553.5,1607.2 556.8,1606.8C560.2,1606.4 563.5,1605.7 566.9,1605.3C570.3,1604.8 573.6,1604.5 577,1604.1C580.4,1603.7 583.7,1603.2 587.1,1602.7C590.4,1602.2 593.8,1601.7 597.2,1601.1C600.5,1600.5 603.9,1599.8 607.3,1599.1C610.6,1598.3 614,1597.4 617.4,1596.7C620.7,1596 624.1,1595.5 627.4,1594.8C630.8,1594.1 634.2,1593.1 637.5,1592.4C640.9,1591.6 644.3,1591 647.6,1590.3C651,1589.6 654.3,1588.8 657.7,1588C661.1,1587.2 664.4,1586.4 667.8,1585.5C671.2,1584.6 674.5,1583.7 677.9,1582.8C681.3,1581.8 684.6,1580.7 688,1579.8C691.3,1578.8 694.7,1577.9 698.1,1577.1C701.4,1576.3 704.8,1575.7 708.2,1574.9C711.5,1574.1 714.9,1573 718.3,1572.5C721.6,1571.9 725,1571.8 728.3,1571.4C731.7,1571.1 735.1,1570.9 738.4,1570.3C741.8,1569.7 745.2,1568.6 748.5,1567.6C751.9,1566.7 755.2,1565.6 758.6,1564.6C762,1563.5 765.3,1562.3 768.7,1561.2C772.1,1560.1 775.4,1559.1 778.8,1558C782.2,1556.9 785.5,1555.6 788.9,1554.6C792.2,1553.6 795.6,1552.8 799,1552C802.3,1551.3 805.7,1550.9 809.1,1550.2C812.4,1549.5 815.8,1548.7 819.1,1547.6C822.5,1546.5 825.9,1544.7 829.2,1543.5C832.6,1542.4 836,1541.7 839.3,1540.6C842.7,1539.5 846.1,1538.1 849.4,1537C852.8,1536 856.1,1535 859.5,1534.1C862.9,1533.1 866.2,1532.3 869.6,1531.4C873,1530.6 876.3,1529.7 879.7,1528.9C883,1528.1 886.4,1527.1 889.8,1526.4C893.1,1525.7 896.5,1525.5 899.9,1524.6C903.2,1523.8 906.6,1522.6 910,1521.5C913.3,1520.5 916.7,1519.4 920,1518.5C923.4,1517.5 926.8,1516.5 930.1,1515.7C933.5,1514.9 936.9,1514.5 940.2,1513.9C943.6,1513.3 946.9,1512.9 950.3,1512.3C953.7,1511.7 957,1510.9 960.4,1510.2C963.8,1509.5 967.1,1508.9 970.5,1508.2C973.9,1507.4 977.2,1506.6 980.6,1505.8C983.9,1505 987.3,1504.3 990.7,1503.4C994,1502.6 997.4,1501.7 1000.8,1500.9C1004.1,1500.1 1007.5,1499.4 1010.8,1498.6C1014.2,1497.8 1017.6,1496.9 1020.9,1496C1024.3,1495.2 1027.7,1494.5 1031,1493.6C1034.4,1492.7 1037.8,1491.6 1041.1,1490.5C1044.5,1489.3 1047.8,1487.9 1051.2,1486.8C1054.6,1485.6 1057.9,1484.7 1061.3,1483.6C1064.7,1482.6 1068,1481.6 1071.4,1480.4C1074.8,1479.2 1078.1,1477.7 1081.5,1476.4C1084.8,1475 1088.2,1473.6 1091.6,1472.2C1094.9,1470.8 1098.3,1469.6 1101.7,1468.1C1105,1466.7 1108.4,1465.1 1111.7,1463.6C1115.1,1462 1118.5,1460.5 1121.8,1459C1125.2,1457.4 1128.6,1455.8 1131.9,1454.2C1135.3,1452.5 1138.7,1450.5 1142,1449C1145.4,1447.4 1148.7,1446.3 1152.1,1444.7C1155.5,1443.2 1158.8,1441.2 1162.2,1439.6C1165.6,1437.9 1168.9,1436.7 1172.3,1435C1175.6,1433.3 1179,1431.2 1182.4,1429.4C1185.7,1427.7 1189.1,1426.4 1192.5,1424.6C1195.8,1422.8 1199.2,1420.9 1202.6,1418.9C1205.9,1416.9 1209.3,1414.5 1212.6,1412.5C1216,1410.5 1219.4,1408.8 1222.7,1406.8C1226.1,1404.8 1229.5,1402.6 1232.8,1400.8C1236.2,1399 1239.5,1397.4 1242.9,1395.9C1246.3,1394.5 1249.6,1393.3 1253,1392.1C1256.4,1390.9 1259.7,1389.7 1263.1,1388.8C1266.5,1387.8 1269.8,1387 1273.2,1386.5C1276.5,1385.9 1279.9,1386.1 1283.3,1385.5C1286.6,1384.8 1290,1383.4 1293.4,1382.5C1296.7,1381.6 1300.1,1380.9 1303.4,1380.1C1306.8,1379.2 1310.2,1378.6 1313.5,1377.6C1316.9,1376.5 1320.3,1374.7 1323.6,1373.9C1327,1373.1 1330.4,1373.4 1333.7,1372.9C1337.1,1372.4 1340.4,1371 1343.8,1371.1C1347.2,1371.1 1350.5,1372.8 1353.9,1373.1C1357.3,1373.4 1360.6,1372.9 1364,1372.9C1367.3,1372.9 1370.7,1373.4 1374.1,1373C1377.4,1372.7 1380.8,1371.3 1384.2,1370.8C1387.5,1370.4 1392.6,1370.3 1394.3,1370.2" fill="none" stroke="#000" stroke-width="1.35"/>
<path d="M566.9,1609.7C568.6,1609.6 573.6,1609.3 577,1609.1C580.4,1608.8 583.7,1608.5 587.1,1608.1C590.4,1607.7 593.8,1607.4 597.2,1606.9C600.5,1606.4 603.9,1605.9 607.3,1605.4C610.6,1604.8 614,1604.3 617.4,1603.9C620.7,1603.4 624.1,1603.1 627.4,1602.6C630.8,1602.1 634.2,1601.5 637.5,1601C640.9,1600.5 644.3,1599.9 647.6,1599.4C651,1599 654.3,1598.6 657.7,1598.1C661.1,1597.6 664.4,1597.1 667.8,1596.6C671.2,1596 674.5,1595.5 677.9,1594.8C681.3,1594.1 684.6,1593.2 688,1592.5C691.3,1591.8 694.7,1591.2 698.1,1590.6C701.4,1590 704.8,1589.4 708.2,1588.8C711.5,1588.2 714.9,1587.4 718.3,1586.8C721.6,1586.2 725,1585.8 728.3,1585.2C731.7,1584.7 735.1,1584.2 738.4,1583.5C741.8,1582.8 745.2,1582.1 748.5,1581.2C751.9,1580.4 755.2,1579.4 758.6,1578.5C762,1577.5 765.3,1576.7 768.7,1575.8C772.1,1574.9 775.4,1573.9 778.8,1573C782.2,1572 785.5,1571 788.9,1570C792.2,1569.1 795.6,1568.3 799,1567.4C802.3,1566.6 805.7,1565.8 809.1,1565C812.4,1564.1 815.8,1563.3 819.1,1562.3C822.5,1561.4 825.9,1560.2 829.2,1559.2C832.6,1558.2 836,1557.3 839.3,1556.5C842.7,1555.7 846.1,1555 849.4,1554.2C852.8,1553.5 856.1,1553 859.5,1552.2C862.9,1551.4 866.2,1550.4 869.6,1549.5C873,1548.6 876.3,1547.7 879.7,1546.7C883,1545.8 886.4,1544.7 889.8,1543.8C893.1,1542.9 896.5,1542.3 899.9,1541.3C903.2,1540.4 906.6,1539.1 910,1538.1C913.3,1537 916.7,1536.1 920,1535.2C923.4,1534.4 926.8,1533.7 930.1,1532.9C933.5,1532.2 936.9,1531.6 940.2,1530.7C943.6,1529.9 946.9,1528.8 950.3,1527.9C953.7,1527 957,1526.3 960.4,1525.4C963.8,1524.5 967.1,1523.5 970.5,1522.6C973.9,1521.7 977.2,1520.8 980.6,1519.9C983.9,1519.1 987.3,1518.3 990.7,1517.4C994,1516.6 997.4,1515.7 1000.8,1514.9C1004.1,1514.1 1007.5,1513.3 1010.8,1512.5C1014.2,1511.7 1017.6,1511.2 1020.9,1510.3C1024.3,1509.5 1027.7,1508.5 1031,1507.6C1034.4,1506.6 1037.8,1505.5 1041.1,1504.5C1044.5,1503.4 1047.8,1502.2 1051.2,1501.2C1054.6,1500.3 1057.9,1499.6 1061.3,1498.8C1064.7,1497.9 1068,1497.2 1071.4,1496.3C1074.8,1495.4 1078.1,1494.3 1081.5,1493.3C1084.8,1492.3 1088.2,1491.2 1091.6,1490.2C1094.9,1489.1 1098.3,1488.1 1101.7,1487C1105,1485.8 1108.4,1484.7 1111.7,1483.5C1115.1,1482.3 1118.5,1481.1 1121.8,1479.9C1125.2,1478.7 1128.6,1477.6 1131.9,1476.4C1135.3,1475.1 1138.7,1473.7 1142,1472.5C1145.4,1471.3 1148.7,1470.4 1152.1,1469.2C1155.5,1467.9 1158.8,1466.4 1162.2,1465C1165.6,1463.6 1168.9,1462.3 1172.3,1460.9C1175.6,1459.5 1179,1457.9 1182.4,1456.5C1185.7,1455.1 1189.1,1454 1192.5,1452.5C1195.8,1451 1199.2,1449.3 1202.6,1447.6C1205.9,1445.9 1209.3,1444.1 1212.6,1442.4C1216,1440.7 1219.4,1439.2 1222.7,1437.5C1226.1,1435.8 1229.5,1433.8 1232.8,1432.2C1236.2,1430.5 1239.5,1429 1242.9,1427.5C1246.3,1425.9 1249.6,1424.5 1253,1423.1C1256.4,1421.7 1259.7,1420.1 1263.1,1418.9C1266.5,1417.6 1269.8,1416.7 1273.2,1415.6C1276.5,1414.6 1279.9,1413.7 1283.3,1412.5C1286.6,1411.4 1290,1410 1293.4,1408.7C1296.7,1407.5 1300.1,1406 1303.4,1404.8C1306.8,1403.5 1310.2,1402.5 1313.5,1401.1C1316.9,1399.7 1320.3,1397.8 1323.6,1396.4C1327,1395 1330.4,1394 1333.7,1392.7C1337.1,1391.5 1340.4,1389.9 1343.8,1388.9C1347.2,1388 1350.5,1387.7 1353.9,1386.9C1357.3,1386.2 1360.6,1385.1 1364,1384.4C1367.3,1383.7 1370.7,1383.3 1374.1,1382.5C1377.4,1381.8 1380.8,1380.5 1384.2,1379.8C1387.5,1379.1 1392.6,1378.6 1394.3,1378.4" fill="none" stroke="#000" stroke-width="1.35"/>
<path d="M688,1599.7C689.7,1599.5 694.7,1598.9 698.1,1598.4C701.4,1598 704.8,1597.5 708.2,1597C711.5,1596.5 714.9,1595.9 718.3,1595.4C721.6,1594.9 725,1594.5 728.3,1594C731.7,1593.6 735.1,1593.2 738.4,1592.7C741.8,1592.2 745.2,1591.6 748.5,1590.9C751.9,1590.3 755.2,1589.6 758.6,1588.9C762,1588.2 765.3,1587.4 768.7,1586.7C772.1,1586 775.4,1585.4 778.8,1584.7C782.2,1584 785.5,1583.3 788.9,1582.6C792.2,1581.9 795.6,1581.2 799,1580.5C802.3,1579.8 805.7,1579.1 809.1,1578.4C812.4,1577.7 815.8,1577 819.1,1576.3C822.5,1575.5 825.9,1574.5 829.2,1573.7C832.6,1572.9 836,1572.1 839.3,1571.4C842.7,1570.6 846.1,1569.9 849.4,1569.2C852.8,1568.4 856.1,1567.8 859.5,1567C862.9,1566.3 866.2,1565.5 869.6,1564.6C873,1563.8 876.3,1562.8 879.7,1561.9C883,1561.1 886.4,1560.2 889.8,1559.3C893.1,1558.5 896.5,1557.8 899.9,1556.9C903.2,1556 906.6,1554.8 910,1553.9C913.3,1552.9 916.7,1552 920,1551.1C923.4,1550.2 926.8,1549.4 930.1,1548.6C933.5,1547.7 936.9,1547 940.2,1546.2C943.6,1545.4 946.9,1544.4 950.3,1543.6C953.7,1542.7 957,1541.9 960.4,1541.1C963.8,1540.3 967.1,1539.6 970.5,1538.9C973.9,1538.1 977.2,1537.5 980.6,1536.7C983.9,1535.9 987.3,1535 990.7,1534.2C994,1533.3 997.4,1532.4 1000.8,1531.4C1004.1,1530.5 1007.5,1529.6 1010.8,1528.7C1014.2,1527.9 1017.6,1527.1 1020.9,1526.2C1024.3,1525.3 1027.7,1524.2 1031,1523.2C1034.4,1522.3 1037.8,1521.3 1041.1,1520.3C1044.5,1519.4 1047.8,1518.4 1051.2,1517.6C1054.6,1516.7 1057.9,1515.9 1061.3,1515C1064.7,1514.1 1068,1513.1 1071.4,1512.1C1074.8,1511.1 1078.1,1510.1 1081.5,1509C1084.8,1508 1088.2,1506.9 1091.6,1505.8C1094.9,1504.7 1098.3,1503.7 1101.7,1502.7C1105,1501.6 1108.4,1500.5 1111.7,1499.5C1115.1,1498.4 1118.5,1497.3 1121.8,1496.3C1125.2,1495.2 1128.6,1494.1 1131.9,1493.1C1135.3,1492 1138.7,1491 1142,1489.9C1145.4,1488.8 1148.7,1487.8 1152.1,1486.6C1155.5,1485.4 1158.8,1484.1 1162.2,1482.8C1165.6,1481.6 1168.9,1480.4 1172.3,1479.2C1175.6,1478 1179,1476.8 1182.4,1475.7C1185.7,1474.5 1189.1,1473.6 1192.5,1472.4C1195.8,1471.2 1199.2,1469.8 1202.6,1468.5C1205.9,1467.1 1209.3,1465.7 1212.6,1464.3C1216,1462.9 1219.4,1461.6 1222.7,1460.2C1226.1,1458.8 1229.5,1457.3 1232.8,1455.9C1236.2,1454.5 1239.5,1453.2 1242.9,1451.9C1246.3,1450.7 1249.6,1449.5 1253,1448.3C1256.4,1447.1 1259.7,1445.7 1263.1,1444.6C1266.5,1443.5 1269.8,1442.6 1273.2,1441.6C1276.5,1440.6 1279.9,1439.7 1283.3,1438.5C1286.6,1437.4 1290,1436 1293.4,1434.7C1296.7,1433.5 1300.1,1432.3 1303.4,1431C1306.8,1429.8 1310.2,1428.9 1313.5,1427.5C1316.9,1426.2 1320.3,1424.4 1323.6,1423C1327,1421.7 1330.4,1420.5 1333.7,1419.2C1337.1,1417.9 1340.4,1416.5 1343.8,1415.3C1347.2,1414.2 1350.5,1413.5 1353.9,1412.5C1357.3,1411.5 1360.6,1410.3 1364,1409.3C1367.3,1408.3 1370.7,1407.5 1374.1,1406.4C1377.4,1405.4 1380.8,1403.8 1384.2,1402.9C1387.5,1401.9 1392.6,1400.9 1394.3,1400.5" fill="none" stroke="#000" stroke-width="1.35"/>
<path d="M930.1,1573C931.8,1572.7 936.9,1571.9 940.2,1571.3C943.6,1570.7 946.9,1570 950.3,1569.4C953.7,1568.7 957,1568.1 960.4,1567.4C963.8,1566.7 967.1,1566.1 970.5,1565.5C973.9,1564.8 977.2,1564.2 980.6,1563.6C983.9,1562.9 987.3,1562.3 990.7,1561.5C994,1560.8 997.4,1560 1000.8,1559.3C1004.1,1558.5 1007.5,1557.7 1010.8,1557C1014.2,1556.3 1017.6,1555.7 1020.9,1555C1024.3,1554.2 1027.7,1553.4 1031,1552.6C1034.4,1551.8 1037.8,1550.9 1041.1,1550.1C1044.5,1549.3 1047.8,1548.3 1051.2,1547.5C1054.6,1546.7 1057.9,1546.1 1061.3,1545.3C1064.7,1544.5 1068,1543.6 1071.4,1542.8C1074.8,1541.9 1078.1,1541 1081.5,1540.1C1084.8,1539.3 1088.2,1538.4 1091.6,1537.6C1094.9,1536.7 1098.3,1535.9 1101.7,1535C1105,1534.1 1108.4,1533.1 1111.7,1532.2C1115.1,1531.2 1118.5,1530.1 1121.8,1529.1C1125.2,1528.1 1128.6,1527.1 1131.9,1526.1C1135.3,1525.1 1138.7,1524.1 1142,1523.1C1145.4,1522.1 1148.7,1521.1 1152.1,1520C1155.5,1518.9 1158.8,1517.8 1162.2,1516.7C1165.6,1515.6 1168.9,1514.5 1172.3,1513.5C1175.6,1512.4 1179,1511.4 1182.4,1510.3C1185.7,1509.3 1189.1,1508.2 1192.5,1507.1C1195.8,1506 1199.2,1504.8 1202.6,1503.7C1205.9,1502.5 1209.3,1501.4 1212.6,1500.3C1216,1499.2 1219.4,1498.2 1222.7,1497C1226.1,1495.9 1229.5,1494.6 1232.8,1493.4C1236.2,1492.2 1239.5,1491 1242.9,1489.9C1246.3,1488.7 1249.6,1487.6 1253,1486.5C1256.4,1485.4 1259.7,1484.3 1263.1,1483.3C1266.5,1482.2 1269.8,1481.2 1273.2,1480.2C1276.5,1479.2 1279.9,1478.2 1283.3,1477.2C1286.6,1476.2 1290,1475.1 1293.4,1474C1296.7,1473 1300.1,1472 1303.4,1470.9C1306.8,1469.9 1310.2,1468.8 1313.5,1467.7C1316.9,1466.5 1320.3,1465.2 1323.6,1464C1327,1462.8 1330.4,1461.7 1333.7,1460.6C1337.1,1459.4 1340.4,1458.2 1343.8,1457.2C1347.2,1456.2 1350.5,1455.4 1353.9,1454.5C1357.3,1453.5 1360.6,1452.5 1364,1451.5C1367.3,1450.6 1370.7,1449.8 1374.1,1448.9C1377.4,1447.9 1380.8,1446.8 1384.2,1445.9C1387.5,1444.9 1392.6,1443.7 1394.3,1443.3" fill="none" stroke="#000" stroke-width="1.35"/>
<line x1="354.5" x2="386.5" y1="1355.3" y2="1355.3" stroke="#ff0000" stroke-width="6" stroke-linecap="round"/>
<text class="kai" x="394.4" y="1362" font-size="18.8" fill="#000" font-weight="300" textLength="226" lengthAdjust="spacing">全国住宅总量平均销售价格</text>
<line x1="354.5" x2="395.2" y1="1384" y2="1384" stroke="#000" stroke-width="1" shape-rendering="crispEdges"/>
<text class="kai" x="403.7" y="1390.7" font-size="18.8" fill="#000" font-weight="300" textLength="331.3" lengthAdjust="spacing"><tspan class="hei" font-weight="700" font-size="17">6</tspan>移动平均 (全国住宅总量平均销售价格)</text>
<line x1="354.5" x2="395.2" y1="1413" y2="1413" stroke="#000" stroke-width="1" shape-rendering="crispEdges"/>
<text class="kai" x="403.7" y="1419.7" font-size="18.8" fill="#000" font-weight="300" textLength="340.6" lengthAdjust="spacing"><tspan class="hei" font-weight="700" font-size="17">12</tspan>移动平均 (全国住宅总量平均销售价格)</text>
<line x1="354.5" x2="395.2" y1="1442.5" y2="1442.5" stroke="#000" stroke-width="1" shape-rendering="crispEdges"/>
<text class="kai" x="403.7" y="1449.2" font-size="18.8" fill="#000" font-weight="300" textLength="340.6" lengthAdjust="spacing"><tspan class="hei" font-weight="700" font-size="17">24</tspan>移动平均 (全国住宅总量平均销售价格)</text>
<line x1="354.5" x2="395.2" y1="1471.6" y2="1471.6" stroke="#000" stroke-width="1" shape-rendering="crispEdges"/>
<text class="kai" x="403.7" y="1478.3" font-size="18.8" fill="#000" font-weight="300" textLength="340.6" lengthAdjust="spacing"><tspan class="hei" font-weight="700" font-size="17">36</tspan>移动平均 (全国住宅总量平均销售价格)</text>
<line x1="354.5" x2="395.2" y1="1501.2" y2="1501.2" stroke="#000" stroke-width="1" shape-rendering="crispEdges"/>
<text class="kai" x="403.7" y="1507.9" font-size="18.8" fill="#000" font-weight="300" textLength="340.6" lengthAdjust="spacing"><tspan class="hei" font-weight="700" font-size="17">60</tspan>移动平均 (全国住宅总量平均销售价格)</text>
<text class="hei" x="1049.8" y="1630" font-size="15.9" fill="#404040" textLength="126.7" lengthAdjust="spacing">编制：房地产書院</text>
<text class="hei" x="1225.7" y="1630" font-size="15.9" fill="#404040" textLength="159.6" lengthAdjust="spacing">数据来源：国家统计局</text>
<text class="hei" transform="translate(343.3,1667.5) rotate(-45)" font-size="15" fill="#404040" text-anchor="end" font-weight="300">1999年1月</text>
<text class="hei" transform="translate(373.6,1667.5) rotate(-45)" font-size="15" fill="#404040" text-anchor="end" font-weight="300">1999年9月</text>
<text class="hei" transform="translate(403.9,1667.5) rotate(-45)" font-size="15" fill="#404040" text-anchor="end" font-weight="300">2000年6月</text>
<text class="hei" transform="translate(434.2,1667.5) rotate(-45)" font-size="15" fill="#404040" text-anchor="end" font-weight="300">2001年3月</text>
<text class="hei" transform="translate(464.4,1667.5) rotate(-45)" font-size="15" fill="#404040" text-anchor="end" font-weight="300">2001年12月</text>
<text class="hei" transform="translate(494.7,1667.5) rotate(-45)" font-size="15" fill="#404040" text-anchor="end" font-weight="300">2002年9月</text>
<text class="hei" transform="translate(525,1667.5) rotate(-45)" font-size="15" fill="#404040" text-anchor="end" font-weight="300">2003年6月</text>
<text class="hei" transform="translate(555.2,1667.5) rotate(-45)" font-size="15" fill="#404040" text-anchor="end" font-weight="300">2004年3月</text>
<text class="hei" transform="translate(585.5,1667.5) rotate(-45)" font-size="15" fill="#404040" text-anchor="end" font-weight="300">2004年12月</text>
<text class="hei" transform="translate(615.8,1667.5) rotate(-45)" font-size="15" fill="#404040" text-anchor="end" font-weight="300">2005年9月</text>
<text class="hei" transform="translate(646,1667.5) rotate(-45)" font-size="15" fill="#404040" text-anchor="end" font-weight="300">2006年6月</text>
<text class="hei" transform="translate(676.3,1667.5) rotate(-45)" font-size="15" fill="#404040" text-anchor="end" font-weight="300">2007年3月</text>
<text class="hei" transform="translate(706.6,1667.5) rotate(-45)" font-size="15" fill="#404040" text-anchor="end" font-weight="300">2007年12月</text>
<text class="hei" transform="translate(736.8,1667.5) rotate(-45)" font-size="15" fill="#404040" text-anchor="end" font-weight="300">2008年9月</text>
<text class="hei" transform="translate(767.1,1667.5) rotate(-45)" font-size="15" fill="#404040" text-anchor="end" font-weight="300">2009年6月</text>
<text class="hei" transform="translate(797.4,1667.5) rotate(-45)" font-size="15" fill="#404040" text-anchor="end" font-weight="300">2010年3月</text>
<text class="hei" transform="translate(827.6,1667.5) rotate(-45)" font-size="15" fill="#404040" text-anchor="end" font-weight="300">2010年12月</text>
<text class="hei" transform="translate(857.9,1667.5) rotate(-45)" font-size="15" fill="#404040" text-anchor="end" font-weight="300">2011年9月</text>
<text class="hei" transform="translate(888.2,1667.5) rotate(-45)" font-size="15" fill="#404040" text-anchor="end" font-weight="300">2012年6月</text>
<text class="hei" transform="translate(918.5,1667.5) rotate(-45)" font-size="15" fill="#404040" text-anchor="end" font-weight="300">2013年3月</text>
<text class="hei" transform="translate(948.7,1667.5) rotate(-45)" font-size="15" fill="#404040" text-anchor="end" font-weight="300">2013年12月</text>
<text class="hei" transform="translate(979,1667.5) rotate(-45)" font-size="15" fill="#404040" text-anchor="end" font-weight="300">2014年9月</text>
<text class="hei" transform="translate(1009.3,1667.5) rotate(-45)" font-size="15" fill="#404040" text-anchor="end" font-weight="300">2015年6月</text>
<text class="hei" transform="translate(1039.5,1667.5) rotate(-45)" font-size="15" fill="#404040" text-anchor="end" font-weight="300">2016年3月</text>
<text class="hei" transform="translate(1069.8,1667.5) rotate(-45)" font-size="15" fill="#404040" text-anchor="end" font-weight="300">2016年12月</text>
<text class="hei" transform="translate(1100.1,1667.5) rotate(-45)" font-size="15" fill="#404040" text-anchor="end" font-weight="300">2017年9月</text>
<text class="hei" transform="translate(1130.3,1667.5) rotate(-45)" font-size="15" fill="#404040" text-anchor="end" font-weight="300">2018年6月</text>
<text class="hei" transform="translate(1160.6,1667.5) rotate(-45)" font-size="15" fill="#404040" text-anchor="end" font-weight="300">2019年3月</text>
<text class="hei" transform="translate(1190.9,1667.5) rotate(-45)" font-size="15" fill="#404040" text-anchor="end" font-weight="300">2019年12月</text>
<text class="hei" transform="translate(1221.1,1667.5) rotate(-45)" font-size="15" fill="#404040" text-anchor="end" font-weight="300">2020年9月</text>
<text class="hei" transform="translate(1251.4,1667.5) rotate(-45)" font-size="15" fill="#404040" text-anchor="end" font-weight="300">2021年6月</text>
<text class="hei" transform="translate(1281.7,1667.5) rotate(-45)" font-size="15" fill="#404040" text-anchor="end" font-weight="300">2022年3月</text>
<text class="hei" transform="translate(1311.9,1667.5) rotate(-45)" font-size="15" fill="#404040" text-anchor="end" font-weight="300">2022年12月</text>
<text class="hei" transform="translate(1342.2,1667.5) rotate(-45)" font-size="15" fill="#404040" text-anchor="end" font-weight="300">2023年9月</text>
<text class="hei" transform="translate(1372.5,1667.5) rotate(-45)" font-size="15" fill="#404040" text-anchor="end" font-weight="300">2024年6月</text>
<text class="hei" transform="translate(1402.8,1667.5) rotate(-45)" font-size="15" fill="#404040" text-anchor="end" font-weight="300">2025年3月</text>
</svg>
<svg id="chart3" width="1654" height="2339" viewBox="0 0 1654 2339">
<rect x="250.3" y="1743.7" width="1152.3" height="398.3" fill="#fff" stroke="#868686" stroke-width="1.2" shape-rendering="crispEdges"/>
<line x1="318.3" x2="1399.3" y1="2136.9" y2="2136.9" stroke="#7f7f7f" stroke-width="1" stroke-dasharray="11.5 4" shape-rendering="crispEdges"/>
<line x1="308.8" x2="318.3" y1="2136.9" y2="2136.9" stroke="#868686" stroke-width="1.1" shape-rendering="crispEdges"/>
<text class="hei" x="305" y="2143.9" font-size="20.1" fill="#404040" text-anchor="end">-400</text>
<line x1="318.3" x2="1399.3" y1="2089.8" y2="2089.8" stroke="#7f7f7f" stroke-width="1" stroke-dasharray="11.5 4" shape-rendering="crispEdges"/>
<line x1="308.8" x2="318.3" y1="2089.8" y2="2089.8" stroke="#868686" stroke-width="1.1" shape-rendering="crispEdges"/>
<text class="hei" x="305" y="2096.8" font-size="20.1" fill="#404040" text-anchor="end">-200</text>
<line x1="308.8" x2="318.3" y1="2042.6" y2="2042.6" stroke="#868686" stroke-width="1.1" shape-rendering="crispEdges"/>
<text class="hei" x="305" y="2049.6" font-size="20.1" fill="#404040" text-anchor="end">0</text>
<line x1="318.3" x2="1399.3" y1="1995.4" y2="1995.4" stroke="#7f7f7f" stroke-width="1" stroke-dasharray="11.5 4" shape-rendering="crispEdges"/>
<line x1="308.8" x2="318.3" y1="1995.4" y2="1995.4" stroke="#868686" stroke-width="1.1" shape-rendering="crispEdges"/>
<text class="hei" x="305" y="2002.4" font-size="20.1" fill="#404040" text-anchor="end">200</text>
<line x1="318.3" x2="1399.3" y1="1948.3" y2="1948.3" stroke="#7f7f7f" stroke-width="1" stroke-dasharray="11.5 4" shape-rendering="crispEdges"/>
<line x1="308.8" x2="318.3" y1="1948.3" y2="1948.3" stroke="#868686" stroke-width="1.1" shape-rendering="crispEdges"/>
<text class="hei" x="305" y="1955.3" font-size="20.1" fill="#404040" text-anchor="end">400</text>
<line x1="318.3" x2="1399.3" y1="1901.1" y2="1901.1" stroke="#7f7f7f" stroke-width="1" stroke-dasharray="11.5 4" shape-rendering="crispEdges"/>
<line x1="308.8" x2="318.3" y1="1901.1" y2="1901.1" stroke="#868686" stroke-width="1.1" shape-rendering="crispEdges"/>
<text class="hei" x="305" y="1908.1" font-size="20.1" fill="#404040" text-anchor="end">600</text>
<line x1="318.3" x2="1399.3" y1="1853.9" y2="1853.9" stroke="#7f7f7f" stroke-width="1" stroke-dasharray="11.5 4" shape-rendering="crispEdges"/>
<line x1="308.8" x2="318.3" y1="1853.9" y2="1853.9" stroke="#868686" stroke-width="1.1" shape-rendering="crispEdges"/>
<text class="hei" x="305" y="1860.9" font-size="20.1" fill="#404040" text-anchor="end">800</text>
<line x1="318.3" x2="1399.3" y1="1806.8" y2="1806.8" stroke="#7f7f7f" stroke-width="1" stroke-dasharray="11.5 4" shape-rendering="crispEdges"/>
<line x1="308.8" x2="318.3" y1="1806.8" y2="1806.8" stroke="#868686" stroke-width="1.1" shape-rendering="crispEdges"/>
<text class="hei" x="305" y="1813.8" font-size="20.1" fill="#404040" text-anchor="end">1000</text>
<line x1="318.3" x2="1399.3" y1="1759.6" y2="1759.6" stroke="#7f7f7f" stroke-width="1" stroke-dasharray="11.5 4" shape-rendering="crispEdges"/>
<line x1="308.8" x2="318.3" y1="1759.6" y2="1759.6" stroke="#868686" stroke-width="1.1" shape-rendering="crispEdges"/>
<text class="hei" x="305" y="1766.6" font-size="20.1" fill="#404040" text-anchor="end">1200</text>
<line x1="318.3" x2="318.3" y1="1759.6" y2="2136.4" stroke="#868686" stroke-width="1.1" shape-rendering="crispEdges"/>
<path d="M331,2042.6h5.2v2.3h-5.2zM341.2,2042.6h5.2v8.2h-5.2zM351.4,2042.6h5.2v10.4h-5.2zM361.6,2042.6h5.2v10.9h-5.2zM371.8,2042.6h5.2v8h-5.2zM382,2042.6h5.2v6.4h-5.2zM392.2,2042.6h5.2v5.9h-5.2zM402.4,2042.6h5.2v0.2h-5.2zM412.6,2034.4h5.2v8.2h-5.2zM422.8,2031.5h5.2v11.1h-5.2zM433,2033h5.2v9.6h-5.2zM443.2,2032.7h5.2v9.9h-5.2zM453.4,2031.6h5.2v11h-5.2zM463.6,2032.7h5.2v9.9h-5.2zM473.8,2027.9h5.2v14.7h-5.2zM484,2030.8h5.2v11.8h-5.2zM494.2,2030.9h5.2v11.7h-5.2zM504.4,2030.6h5.2v12h-5.2zM514.6,2027.3h5.2v15.3h-5.2zM524.8,2031.2h5.2v11.4h-5.2zM535,2028.2h5.2v14.4h-5.2zM545.2,2024.6h5.2v18h-5.2zM555.4,2018.8h5.2v23.8h-5.2zM565.6,2020.2h5.2v22.4h-5.2zM575.8,2016.3h5.2v26.3h-5.2zM585.9,2017.1h5.2v25.5h-5.2zM596.1,2006.7h5.2v35.9h-5.2zM606.3,2002.2h5.2v40.4h-5.2zM616.5,2006.9h5.2v35.7h-5.2zM626.7,2002.7h5.2v39.9h-5.2zM636.9,2006.2h5.2v36.4h-5.2zM647.1,2012.3h5.2v30.3h-5.2zM657.3,2010.4h5.2v32.2h-5.2zM667.5,2009h5.2v33.6h-5.2zM677.7,1997.2h5.2v45.4h-5.2zM687.9,2003.6h5.2v39h-5.2zM698.1,2011.4h5.2v31.2h-5.2zM708.3,2013.5h5.2v29.1h-5.2zM718.5,2023.5h5.2v19.1h-5.2zM728.7,2034.1h5.2v8.5h-5.2zM738.9,2027.1h5.2v15.5h-5.2zM749.1,2012.9h5.2v29.7h-5.2zM759.3,2003.3h5.2v39.3h-5.2zM769.5,2004.8h5.2v37.8h-5.2zM779.7,1996.9h5.2v45.7h-5.2zM789.9,2004.9h5.2v37.7h-5.2zM800.1,2012.4h5.2v30.2h-5.2zM810.3,2017.3h5.2v25.3h-5.2zM820.5,2007.3h5.2v35.3h-5.2zM830.7,2014.4h5.2v28.2h-5.2zM840.9,2021.9h5.2v20.7h-5.2zM851.1,2037h5.2v5.6h-5.2zM861.3,2037h5.2v5.6h-5.2zM871.5,2029.8h5.2v12.8h-5.2zM881.7,2025.2h5.2v17.4h-5.2zM891.9,2035.8h5.2v6.8h-5.2zM902.1,2021h5.2v21.6h-5.2zM912.3,2021.5h5.2v21.1h-5.2zM922.5,2027.6h5.2v15h-5.2zM932.7,2041.6h5.2v1h-5.2zM942.9,2041h5.2v1.6h-5.2zM953.1,2042.6h5.2v4h-5.2zM963.3,2042.6h5.2v8.9h-5.2zM973.5,2042.6h5.2v18h-5.2zM983.7,2042.6h5.2v13.3h-5.2zM993.9,2040.4h5.2v2.2h-5.2zM1004.1,2037.5h5.2v5.1h-5.2zM1014.3,2042.6h5.2v1.2h-5.2zM1024.5,2025.4h5.2v17.2h-5.2zM1034.7,2011.1h5.2v31.5h-5.2zM1044.9,2006.1h5.2v36.5h-5.2zM1055.1,2024.7h5.2v17.9h-5.2zM1065.3,2022.6h5.2v20h-5.2zM1075.5,2019.8h5.2v22.8h-5.2zM1085.7,2020.2h5.2v22.4h-5.2zM1095.9,2027.7h5.2v14.9h-5.2zM1106.1,2015.2h5.2v27.4h-5.2zM1116.3,2002.2h5.2v40.4h-5.2zM1126.5,1995.6h5.2v47h-5.2zM1136.6,2001.2h5.2v41.4h-5.2zM1146.8,1998.5h5.2v44.1h-5.2zM1157,1985.1h5.2v57.5h-5.2zM1167.2,1988.3h5.2v54.3h-5.2zM1177.4,1999.9h5.2v42.7h-5.2zM1187.6,2009.2h5.2v33.4h-5.2zM1197.8,2002.3h5.2v40.3h-5.2zM1208,1993.8h5.2v48.8h-5.2zM1218.2,2004.3h5.2v38.3h-5.2zM1228.4,1994.6h5.2v48h-5.2zM1238.6,1997.8h5.2v44.8h-5.2zM1248.8,2016.9h5.2v25.7h-5.2zM1259,2042.6h5.2v1.7h-5.2zM1269.2,2042.6h5.2v25.2h-5.2zM1279.4,2042.6h5.2v43.1h-5.2zM1289.6,2042.6h5.2v35.6h-5.2zM1299.8,2042.6h5.2v42.1h-5.2zM1310,2042.6h5.2v41.2h-5.2zM1320.2,2042.6h5.2v10h-5.2zM1330.4,2042.6h5.2v19.3h-5.2zM1340.6,2042.6h5.2v26.4h-5.2zM1350.8,2042.6h5.2v58.1h-5.2zM1361,2042.6h5.2v56.7h-5.2zM1371.2,2042.6h5.2v71.4h-5.2zM1381.4,2042.6h5.2v59.7h-5.2zM1391.6,2042.6h5.2v75.3h-5.2z" fill="#9bbb59"/>
<line x1="318.3" x2="1399.3" y1="2042.6" y2="2042.6" stroke="#868686" stroke-width="1.1" shape-rendering="crispEdges"/>
<path d="M318.3,2042.6v6M338.7,2042.6v6M359.1,2042.6v6M379.5,2042.6v6M399.9,2042.6v6M420.3,2042.6v6M440.7,2042.6v6M461.1,2042.6v6M481.5,2042.6v6M501.9,2042.6v6M522.3,2042.6v6M542.7,2042.6v6M563.1,2042.6v6M583.5,2042.6v6M603.8,2042.6v6M624.2,2042.6v6M644.6,2042.6v6M665,2042.6v6M685.4,2042.6v6M705.8,2042.6v6M726.2,2042.6v6M746.6,2042.6v6M767,2042.6v6M787.4,2042.6v6M807.8,2042.6v6M828.2,2042.6v6M848.6,2042.6v6M869,2042.6v6M889.4,2042.6v6M909.8,2042.6v6M930.2,2042.6v6M950.6,2042.6v6M971,2042.6v6M991.4,2042.6v6M1011.8,2042.6v6M1032.2,2042.6v6M1052.6,2042.6v6M1073,2042.6v6M1093.4,2042.6v6M1113.8,2042.6v6M1134.1,2042.6v6M1154.5,2042.6v6M1174.9,2042.6v6M1195.3,2042.6v6M1215.7,2042.6v6M1236.1,2042.6v6M1256.5,2042.6v6M1276.9,2042.6v6M1297.3,2042.6v6M1317.7,2042.6v6M1338.1,2042.6v6M1358.5,2042.6v6M1378.9,2042.6v6M1399.3,2042.6v6" stroke="#868686" stroke-width="1.1" fill="none" shape-rendering="crispEdges"/>
<text class="hei" x="827.4" y="1773.5" font-size="18" fill="#595959" text-anchor="middle" font-weight="300" textLength="317.7" lengthAdjust="spacing">商品住宅销售季度平均价格MACD指标</text>
<text class="hei" transform="translate(329.9,2071.5) rotate(-45)" font-size="15.6" fill="#404040" text-anchor="end" font-weight="300" textLength="68.9" lengthAdjust="spacingAndGlyphs">1999年1月</text>
<text class="hei" transform="translate(360.5,2071.5) rotate(-45)" font-size="15.6" fill="#404040" text-anchor="end" font-weight="300" textLength="68.9" lengthAdjust="spacingAndGlyphs">1999年9月</text>
<text class="hei" transform="translate(391.1,2071.5) rotate(-45)" font-size="15.6" fill="#404040" text-anchor="end" font-weight="300" textLength="68.9" lengthAdjust="spacingAndGlyphs">2000年6月</text>
<text class="hei" transform="translate(421.7,2071.5) rotate(-45)" font-size="15.6" fill="#404040" text-anchor="end" font-weight="300" textLength="68.9" lengthAdjust="spacingAndGlyphs">2001年3月</text>
<text class="hei" transform="translate(452.3,2071.5) rotate(-45)" font-size="15.6" fill="#404040" text-anchor="end" font-weight="300" textLength="76.6" lengthAdjust="spacingAndGlyphs">2001年12月</text>
<text class="hei" transform="translate(482.9,2071.5) rotate(-45)" font-size="15.6" fill="#404040" text-anchor="end" font-weight="300" textLength="68.9" lengthAdjust="spacingAndGlyphs">2002年9月</text>
<text class="hei" transform="translate(513.5,2071.5) rotate(-45)" font-size="15.6" fill="#404040" text-anchor="end" font-weight="300" textLength="68.9" lengthAdjust="spacingAndGlyphs">2003年6月</text>
<text class="hei" transform="translate(544.1,2071.5) rotate(-45)" font-size="15.6" fill="#404040" text-anchor="end" font-weight="300" textLength="68.9" lengthAdjust="spacingAndGlyphs">2004年3月</text>
<text class="hei" transform="translate(574.7,2071.5) rotate(-45)" font-size="15.6" fill="#404040" text-anchor="end" font-weight="300" textLength="76.6" lengthAdjust="spacingAndGlyphs">2004年12月</text>
<text class="hei" transform="translate(605.2,2071.5) rotate(-45)" font-size="15.6" fill="#404040" text-anchor="end" font-weight="300" textLength="68.9" lengthAdjust="spacingAndGlyphs">2005年9月</text>
<text class="hei" transform="translate(635.8,2071.5) rotate(-45)" font-size="15.6" fill="#404040" text-anchor="end" font-weight="300" textLength="68.9" lengthAdjust="spacingAndGlyphs">2006年6月</text>
<text class="hei" transform="translate(666.4,2071.5) rotate(-45)" font-size="15.6" fill="#404040" text-anchor="end" font-weight="300" textLength="68.9" lengthAdjust="spacingAndGlyphs">2007年3月</text>
<text class="hei" transform="translate(697,2071.5) rotate(-45)" font-size="15.6" fill="#404040" text-anchor="end" font-weight="300" textLength="76.6" lengthAdjust="spacingAndGlyphs">2007年12月</text>
<text class="hei" transform="translate(727.6,2071.5) rotate(-45)" font-size="15.6" fill="#404040" text-anchor="end" font-weight="300" textLength="68.9" lengthAdjust="spacingAndGlyphs">2008年9月</text>
<text class="hei" transform="translate(758.2,2071.5) rotate(-45)" font-size="15.6" fill="#404040" text-anchor="end" font-weight="300" textLength="68.9" lengthAdjust="spacingAndGlyphs">2009年6月</text>
<text class="hei" transform="translate(788.8,2071.5) rotate(-45)" font-size="15.6" fill="#404040" text-anchor="end" font-weight="300" textLength="68.9" lengthAdjust="spacingAndGlyphs">2010年3月</text>
<text class="hei" transform="translate(819.4,2071.5) rotate(-45)" font-size="15.6" fill="#404040" text-anchor="end" font-weight="300" textLength="76.6" lengthAdjust="spacingAndGlyphs">2010年12月</text>
<text class="hei" transform="translate(850,2071.5) rotate(-45)" font-size="15.6" fill="#404040" text-anchor="end" font-weight="300" textLength="68.9" lengthAdjust="spacingAndGlyphs">2011年9月</text>
<text class="hei" transform="translate(880.6,2071.5) rotate(-45)" font-size="15.6" fill="#404040" text-anchor="end" font-weight="300" textLength="68.9" lengthAdjust="spacingAndGlyphs">2012年6月</text>
<text class="hei" transform="translate(911.2,2071.5) rotate(-45)" font-size="15.6" fill="#404040" text-anchor="end" font-weight="300" textLength="68.9" lengthAdjust="spacingAndGlyphs">2013年3月</text>
<text class="hei" transform="translate(941.8,2071.5) rotate(-45)" font-size="15.6" fill="#404040" text-anchor="end" font-weight="300" textLength="76.6" lengthAdjust="spacingAndGlyphs">2013年12月</text>
<text class="hei" transform="translate(972.4,2071.5) rotate(-45)" font-size="15.6" fill="#404040" text-anchor="end" font-weight="300" textLength="68.9" lengthAdjust="spacingAndGlyphs">2014年9月</text>
<text class="hei" transform="translate(1003,2071.5) rotate(-45)" font-size="15.6" fill="#404040" text-anchor="end" font-weight="300" textLength="68.9" lengthAdjust="spacingAndGlyphs">2015年6月</text>
<text class="hei" transform="translate(1033.6,2071.5) rotate(-45)" font-size="15.6" fill="#404040" text-anchor="end" font-weight="300" textLength="68.9" lengthAdjust="spacingAndGlyphs">2016年3月</text>
<text class="hei" transform="translate(1064.2,2071.5) rotate(-45)" font-size="15.6" fill="#404040" text-anchor="end" font-weight="300" textLength="76.6" lengthAdjust="spacingAndGlyphs">2016年12月</text>
<text class="hei" transform="translate(1094.8,2071.5) rotate(-45)" font-size="15.6" fill="#404040" text-anchor="end" font-weight="300" textLength="68.9" lengthAdjust="spacingAndGlyphs">2017年9月</text>
<text class="hei" transform="translate(1125.4,2071.5) rotate(-45)" font-size="15.6" fill="#404040" text-anchor="end" font-weight="300" textLength="68.9" lengthAdjust="spacingAndGlyphs">2018年6月</text>
<text class="hei" transform="translate(1155.9,2071.5) rotate(-45)" font-size="15.6" fill="#404040" text-anchor="end" font-weight="300" textLength="68.9" lengthAdjust="spacingAndGlyphs">2019年3月</text>
<text class="hei" transform="translate(1186.5,2071.5) rotate(-45)" font-size="15.6" fill="#404040" text-anchor="end" font-weight="300" textLength="76.6" lengthAdjust="spacingAndGlyphs">2019年12月</text>
<text class="hei" transform="translate(1217.1,2071.5) rotate(-45)" font-size="15.6" fill="#404040" text-anchor="end" font-weight="300" textLength="68.9" lengthAdjust="spacingAndGlyphs">2020年9月</text>
<text class="hei" transform="translate(1247.7,2071.5) rotate(-45)" font-size="15.6" fill="#404040" text-anchor="end" font-weight="300" textLength="68.9" lengthAdjust="spacingAndGlyphs">2021年6月</text>
<text class="hei" transform="translate(1278.3,2071.5) rotate(-45)" font-size="15.6" fill="#404040" text-anchor="end" font-weight="300" textLength="68.9" lengthAdjust="spacingAndGlyphs">2022年3月</text>
<text class="hei" transform="translate(1308.9,2071.5) rotate(-45)" font-size="15.6" fill="#404040" text-anchor="end" font-weight="300" textLength="76.6" lengthAdjust="spacingAndGlyphs">2022年12月</text>
<text class="hei" transform="translate(1339.5,2071.5) rotate(-45)" font-size="15.6" fill="#404040" text-anchor="end" font-weight="300" textLength="68.9" lengthAdjust="spacingAndGlyphs">2023年9月</text>
<text class="hei" transform="translate(1370.1,2071.5) rotate(-45)" font-size="15.6" fill="#404040" text-anchor="end" font-weight="300" textLength="68.9" lengthAdjust="spacingAndGlyphs">2024年6月</text>
<text class="hei" transform="translate(1400.7,2071.5) rotate(-45)" font-size="15.6" fill="#404040" text-anchor="end" font-weight="300" textLength="68.9" lengthAdjust="spacingAndGlyphs">2025年3月</text>
<rect x="355.3" y="1841.6" width="32.5" height="10.4" fill="#9bbb59"/>
<text class="hei" x="393.3" y="1853" font-size="15.2" fill="#595959" font-weight="300" textLength="134" lengthAdjust="spacing">BAR=2×(DIF－DEA)</text>
<line x1="354.5" x2="387" y1="1869.7" y2="1869.7" stroke="#4a7ebb" stroke-width="5" stroke-linecap="round"/>
<text class="hei" x="393.3" y="1874.5" font-size="15.2" fill="#595959" font-weight="300" textLength="270" lengthAdjust="spacing">DIF=今日EMA（12）－今日EMA（26）</text>
<line x1="354.5" x2="387" y1="1891.8" y2="1891.8" stroke="#be4b48" stroke-width="5" stroke-linecap="round"/>
<text class="hei" x="393.3" y="1896.5" font-size="15.2" fill="#595959" font-weight="300" textLength="622.5" lengthAdjust="spacing">DEA:DIF的9日EMA,又名DEA或DEM:今日DEA（MACD）=前一日DEA×8/10＋今日DIF×2/10</text>
<text class="hei" x="1060.9" y="1991.8" font-size="15.9" fill="#404040" textLength="126.7" lengthAdjust="spacing">编制：房地产書院</text>
<text class="hei" x="1236.7" y="1991.8" font-size="15.9" fill="#404040" textLength="158.9" lengthAdjust="spacing">数据来源：国家统计局</text>
<path d="M333.6,2044C335.3,2044.7 340.4,2047 343.8,2048C347.2,2049.1 350.6,2049.7 354,2050.4C357.4,2051.1 360.8,2051.8 364.2,2052C367.6,2052.2 371,2051.6 374.4,2051.6C377.8,2051.5 381.2,2051.5 384.6,2051.6C388,2051.6 391.4,2052.4 394.8,2052C398.2,2051.6 401.6,2050.5 405,2049.2C408.4,2047.9 411.8,2045.4 415.2,2044C418.6,2042.7 422,2041.7 425.4,2041.2C428.8,2040.6 432.2,2041 435.6,2040.7C439,2040.4 442.4,2039.8 445.8,2039.3C449.2,2038.7 452.6,2037.8 456,2037.4C459.4,2037 462.8,2037.5 466.2,2036.7C469.6,2035.9 473,2033.2 476.4,2032.5C479.8,2031.8 483.2,2032.7 486.6,2032.5C490,2032.2 493.4,2031.6 496.8,2031C500.2,2030.5 503.6,2030.3 507,2029.4C510.4,2028.5 513.8,2026.4 517.2,2025.9C520.6,2025.3 524,2026.8 527.4,2026.3C530.8,2025.9 534.2,2024.2 537.6,2023C541,2021.8 544.4,2020.7 547.8,2019C551.2,2017.4 554.6,2014.5 558,2013.1C561.4,2011.8 564.8,2012.2 568.2,2011C571.6,2009.8 575,2007.1 578.4,2005.8C581.8,2004.5 585.2,2005.1 588.5,2003C591.9,2000.9 595.3,1996.1 598.7,1993.3C602.1,1990.5 605.5,1987.6 608.9,1986C612.3,1984.4 615.7,1985.4 619.1,1983.9C622.5,1982.3 625.9,1978.5 629.3,1976.8C632.7,1975.2 636.1,1974.6 639.5,1974C642.9,1973.4 646.3,1974.2 649.7,1973.3C653.1,1972.3 656.5,1970 659.9,1968.3C663.3,1966.7 666.7,1966.1 670.1,1963.4C673.5,1960.6 676.9,1954 680.3,1951.8C683.7,1949.6 687.1,1950.4 690.5,1950.2C693.9,1949.9 697.3,1950.6 700.7,1950.2C704.1,1949.7 707.5,1947.6 710.9,1947.6C714.3,1947.6 717.7,1949 721.1,1950.2C724.5,1951.3 727.9,1954.6 731.3,1954.4C734.7,1954.2 738.1,1951.7 741.5,1949C744.9,1946.3 748.3,1941.5 751.7,1938.1C755.1,1934.7 758.5,1930.7 761.9,1928.5C765.3,1926.2 768.7,1926.7 772.1,1924.4C775.5,1922.2 778.9,1916.5 782.3,1914.8C785.7,1913 789.1,1914.2 792.5,1914.1C795.9,1914 799.3,1914.2 802.7,1914.1C806.1,1914 809.5,1915.1 812.9,1913.4C816.3,1911.7 819.7,1905.5 823.1,1903.9C826.5,1902.4 829.9,1903.7 833.3,1903.9C836.7,1904.1 840.1,1903.8 843.5,1905.1C846.9,1906.4 850.3,1910.9 853.7,1911.9C857.1,1913 860.5,1912.2 863.9,1911.2C867.3,1910.3 870.7,1907.7 874.1,1906.1C877.5,1904.4 880.9,1901.6 884.3,1901.6C887.7,1901.6 891.1,1907 894.5,1906.1C897.9,1905.1 901.3,1898 904.7,1895.9C908.1,1893.8 911.5,1893.7 914.9,1893.6C918.3,1893.4 921.7,1893.4 925.1,1894.7C928.5,1896.1 931.9,1900.5 935.3,1901.6C938.7,1902.6 942.1,1900.6 945.5,1901.1C948.9,1901.6 952.3,1903.3 955.7,1904.4C959.1,1905.5 962.5,1906.2 965.9,1907.9C969.3,1909.7 972.7,1913.8 976.1,1914.8C979.5,1915.8 982.9,1915.5 986.3,1914.1C989.7,1912.6 993.1,1907.7 996.5,1906.1C999.9,1904.4 1003.3,1903.7 1006.7,1903.9C1010.1,1904.1 1013.5,1908.6 1016.9,1907.2C1020.3,1905.9 1023.7,1899.6 1027.1,1895.9C1030.5,1892.2 1033.9,1887.9 1037.3,1884.8C1040.7,1881.8 1044.1,1877.8 1047.5,1877.8C1050.9,1877.8 1054.3,1884.2 1057.7,1884.8C1061.1,1885.4 1064.5,1882.6 1067.9,1881.3C1071.3,1880 1074.7,1878.2 1078.1,1877C1081.5,1875.9 1084.9,1874.6 1088.3,1874.5C1091.7,1874.3 1095.1,1877.6 1098.5,1876.3C1101.9,1875 1105.3,1870.2 1108.7,1866.7C1112.1,1863.1 1115.5,1858.6 1118.9,1855.1C1122.3,1851.7 1125.7,1847.8 1129,1845.9C1132.4,1844 1135.8,1845.1 1139.2,1843.6C1142.6,1842 1146,1840.2 1149.4,1836.7C1152.8,1833.3 1156.2,1826 1159.6,1822.8C1163,1819.6 1166.4,1818.4 1169.8,1817.6C1173.2,1816.8 1176.6,1817.9 1180,1818.1C1183.4,1818.2 1186.8,1819.9 1190.2,1818.6C1193.6,1817.2 1197,1813.2 1200.4,1810.1C1203.8,1806.9 1207.2,1801.3 1210.6,1799.7C1214,1798 1217.4,1801.9 1220.8,1800.2C1224.2,1798.4 1227.6,1791.8 1231,1789.3C1234.4,1786.8 1237.8,1784.9 1241.2,1785.3C1244.6,1785.7 1248,1788.3 1251.4,1791.7C1254.8,1795.1 1258.2,1800.8 1261.6,1805.6C1265,1810.4 1268.4,1815.6 1271.8,1820.4C1275.2,1825.3 1278.6,1832.3 1282,1834.8C1285.4,1837.3 1288.8,1834 1292.2,1835.5C1295.6,1837.1 1299,1841.8 1302.4,1844C1305.8,1846.2 1309.2,1850.4 1312.6,1848.7C1316,1847.1 1319.4,1835.6 1322.8,1834.4C1326.2,1833.1 1329.6,1839.1 1333,1841.4C1336.4,1843.8 1339.8,1843.3 1343.2,1848.3C1346.6,1853.3 1350,1866.5 1353.4,1871.4C1356.8,1876.3 1360.2,1874 1363.6,1877.8C1367,1881.5 1370.4,1891 1373.8,1894C1377.2,1897 1380.6,1892.5 1384,1895.7C1387.4,1898.8 1392.5,1910 1394.2,1912.9" fill="none" stroke="#4a7ebb" stroke-width="5.6" stroke-linejoin="round" stroke-linecap="round"/>
<path d="M343.8,2043.9C345.5,2044.1 350.6,2044.8 354,2045.2C357.4,2045.6 360.8,2046.2 364.2,2046.6C367.6,2047 371,2047.3 374.4,2047.6C377.8,2047.9 381.2,2048.1 384.6,2048.4C388,2048.6 391.4,2049 394.8,2049.1C398.2,2049.2 401.6,2049.3 405,2049.1C408.4,2049 411.8,2048.5 415.2,2048.1C418.6,2047.7 422,2047.1 425.4,2046.7C428.8,2046.3 432.2,2045.9 435.6,2045.5C439,2045.1 442.4,2044.7 445.8,2044.3C449.2,2043.8 452.6,2043.3 456,2042.9C459.4,2042.5 462.8,2042.2 466.2,2041.7C469.6,2041.1 473,2040.4 476.4,2039.8C479.8,2039.3 483.2,2038.8 486.6,2038.3C490,2037.9 493.4,2037.4 496.8,2036.9C500.2,2036.4 503.6,2036 507,2035.4C510.4,2034.8 513.8,2034 517.2,2033.5C520.6,2032.9 524,2032.6 527.4,2032.1C530.8,2031.5 534.2,2030.9 537.6,2030.2C541,2029.6 544.4,2028.9 547.8,2028C551.2,2027.1 554.6,2026 558,2025C561.4,2024.1 564.8,2023.2 568.2,2022.2C571.6,2021.2 575,2020 578.4,2018.9C581.8,2017.9 585.2,2017 588.5,2015.7C591.9,2014.5 595.3,2012.8 598.7,2011.3C602.1,2009.7 605.5,2007.8 608.9,2006.2C612.3,2004.6 615.7,2003.3 619.1,2001.7C622.5,2000.2 625.9,1998.3 629.3,1996.8C632.7,1995.2 636.1,1993.6 639.5,1992.2C642.9,1990.8 646.3,1989.7 649.7,1988.4C653.1,1987.1 656.5,1985.8 659.9,1984.4C663.3,1983 666.7,1981.8 670.1,1980.2C673.5,1978.5 676.9,1976.3 680.3,1974.5C683.7,1972.8 687.1,1971.1 690.5,1969.6C693.9,1968.2 697.3,1967 700.7,1965.7C704.1,1964.5 707.5,1963.1 710.9,1962.1C714.3,1961.1 717.7,1960.3 721.1,1959.7C724.5,1959.1 727.9,1959.2 731.3,1958.7C734.7,1958.2 738.1,1957.7 741.5,1956.7C744.9,1955.8 748.3,1954.4 751.7,1953C755.1,1951.6 758.5,1949.7 761.9,1948.1C765.3,1946.5 768.7,1945.1 772.1,1943.4C775.5,1941.6 778.9,1939.4 782.3,1937.6C785.7,1935.9 789.1,1934.3 792.5,1932.9C795.9,1931.5 799.3,1930.3 802.7,1929.2C806.1,1928 809.5,1927.3 812.9,1926C816.3,1924.7 819.7,1922.9 823.1,1921.6C826.5,1920.3 829.9,1919.1 833.3,1918.1C836.7,1917 840.1,1916 843.5,1915.5C846.9,1914.9 850.3,1915 853.7,1914.8C857.1,1914.5 860.5,1914.4 863.9,1914.1C867.3,1913.7 870.7,1913.1 874.1,1912.5C877.5,1911.8 880.9,1910.8 884.3,1910.3C887.7,1909.8 891.1,1910 894.5,1909.4C897.9,1908.8 901.3,1907.6 904.7,1906.7C908.1,1905.8 911.5,1904.8 914.9,1904.1C918.3,1903.3 921.7,1902.6 925.1,1902.2C928.5,1901.9 931.9,1902.1 935.3,1902.1C938.7,1902 942.1,1901.8 945.5,1901.9C948.9,1901.9 952.3,1902.1 955.7,1902.4C959.1,1902.7 962.5,1902.9 965.9,1903.5C969.3,1904.1 972.7,1905.1 976.1,1905.8C979.5,1906.4 982.9,1907.2 986.3,1907.4C989.7,1907.7 993.1,1907.3 996.5,1907.1C999.9,1907 1003.3,1906.6 1006.7,1906.5C1010.1,1906.4 1013.5,1907 1016.9,1906.6C1020.3,1906.3 1023.7,1905.5 1027.1,1904.5C1030.5,1903.5 1033.9,1902 1037.3,1900.6C1040.7,1899.2 1044.1,1897.1 1047.5,1896C1050.9,1894.9 1054.3,1894.6 1057.7,1893.8C1061.1,1893 1064.5,1892.2 1067.9,1891.3C1071.3,1890.4 1074.7,1889.4 1078.1,1888.4C1081.5,1887.5 1084.9,1886.4 1088.3,1885.6C1091.7,1884.9 1095.1,1884.7 1098.5,1883.8C1101.9,1882.9 1105.3,1881.8 1108.7,1880.4C1112.1,1878.9 1115.5,1877.1 1118.9,1875.3C1122.3,1873.5 1125.7,1871.3 1129,1869.4C1132.4,1867.6 1135.8,1866 1139.2,1864.3C1142.6,1862.5 1146,1860.9 1149.4,1858.7C1152.8,1856.6 1156.2,1853.9 1159.6,1851.6C1163,1849.2 1166.4,1846.8 1169.8,1844.8C1173.2,1842.7 1176.6,1841 1180,1839.4C1183.4,1837.8 1186.8,1836.8 1190.2,1835.3C1193.6,1833.7 1197,1832.1 1200.4,1830.2C1203.8,1828.4 1207.2,1825.9 1210.6,1824.1C1214,1822.3 1217.4,1821.1 1220.8,1819.3C1224.2,1817.5 1227.6,1815.3 1231,1813.3C1234.4,1811.4 1237.8,1809.2 1241.2,1807.7C1244.6,1806.3 1248,1805 1251.4,1804.5C1254.8,1804 1258.2,1804.2 1261.6,1804.7C1265,1805.3 1268.4,1806.4 1271.8,1807.9C1275.2,1809.3 1278.6,1811.6 1282,1813.3C1285.4,1814.9 1288.8,1816.1 1292.2,1817.7C1295.6,1819.3 1299,1821.2 1302.4,1823C1305.8,1824.7 1309.2,1827.1 1312.6,1828.1C1316,1829.2 1319.4,1828.8 1322.8,1829.4C1326.2,1830 1329.6,1830.8 1333,1831.8C1336.4,1832.7 1339.8,1833.3 1343.2,1835.1C1346.6,1836.8 1350,1840 1353.4,1842.3C1356.8,1844.7 1360.2,1846.8 1363.6,1849.4C1367,1852.1 1370.4,1855.6 1373.8,1858.3C1377.2,1861.1 1380.6,1863 1384,1865.8C1387.4,1868.6 1392.5,1873.7 1394.2,1875.2" fill="none" stroke="#be4b48" stroke-width="5.6" stroke-linejoin="round" stroke-linecap="round"/>
</svg>
</figure>
</main>
<footer>
<svg id="pageno" width="1654" height="2339" viewBox="0 0 1654 2339">
<text class="song" transform="translate(802.7,2215.4) scale(1.7,0.6)" font-size="25" fill="#000" text-anchor="middle">-</text>
<text class="song" x="827.3" y="2222" font-size="25" fill="#000" text-anchor="middle">3</text>
<text class="song" transform="translate(852.3,2215.4) scale(1.7,0.6)" font-size="25" fill="#000" text-anchor="middle">-</text>
</svg></footer>
</div>
</body>
</html>
